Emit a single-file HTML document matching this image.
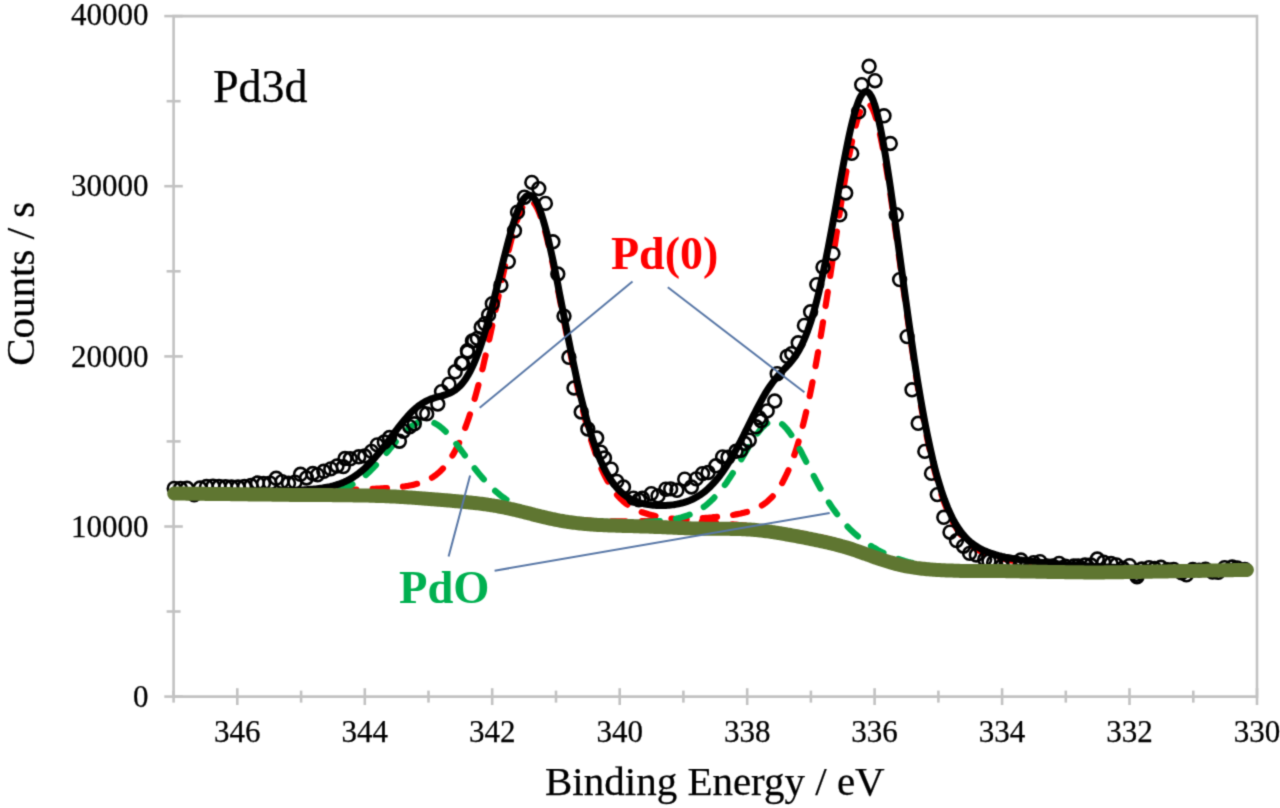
<!DOCTYPE html>
<html><head><meta charset="utf-8"><style>
html,body{margin:0;padding:0;background:#fff;}
svg{display:block;}
text{font-family:"Liberation Serif",serif;}
</style></head><body>
<svg width="1280" height="808" viewBox="0 0 1280 808">
<defs><filter id="bl" filterUnits="userSpaceOnUse" x="0" y="0" width="1280" height="808" color-interpolation-filters="sRGB"><feConvolveMatrix order="3" kernelMatrix="0.02768 0.11101 0.02768 0.11101 0.44521 0.11101 0.02768 0.11101 0.02768" divisor="1" preserveAlpha="false" edgeMode="duplicate"/></filter></defs>
<rect width="1280" height="808" fill="#fff"/>
<g filter="url(#bl)">
<rect width="1280" height="808" fill="#fff"/>
<g stroke="#c2c2c2" stroke-width="2.6" fill="none"><path d="M173.6 16.1 H1257.0 V696.6 H173.6 Z"/><path d="M164.3 696.6 H182.8"/><path d="M166.6 611.5 H180.6"/><path d="M164.3 526.5 H182.8"/><path d="M166.6 441.4 H180.6"/><path d="M164.3 356.4 H182.8"/><path d="M166.6 271.3 H180.6"/><path d="M164.3 186.2 H182.8"/><path d="M166.6 101.2 H180.6"/><path d="M164.3 16.1 H182.8"/><path d="M173.6 690.6 V702.6"/><path d="M237.3 688.2 V705"/><path d="M301.1 690.6 V702.6"/><path d="M364.8 688.2 V705"/><path d="M428.5 690.6 V702.6"/><path d="M492.2 688.2 V705"/><path d="M556.0 690.6 V702.6"/><path d="M619.7 688.2 V705"/><path d="M683.4 690.6 V702.6"/><path d="M747.2 688.2 V705"/><path d="M810.9 690.6 V702.6"/><path d="M874.6 688.2 V705"/><path d="M938.4 690.6 V702.6"/><path d="M1002.1 688.2 V705"/><path d="M1065.8 690.6 V702.6"/><path d="M1129.5 688.2 V705"/><path d="M1193.3 690.6 V702.6"/><path d="M1257.0 688.2 V705"/></g>
<g font-size="31" fill="#000" stroke="#000" stroke-width="0.25"><text x="148.6" y="706.8" text-anchor="end">0</text><text x="148.6" y="536.7" text-anchor="end">10000</text><text x="148.6" y="366.6" text-anchor="end">20000</text><text x="148.6" y="196.4" text-anchor="end">30000</text><text x="148.6" y="25.0" text-anchor="end">40000</text><text x="237.3" y="742" text-anchor="middle">346</text><text x="364.8" y="742" text-anchor="middle">344</text><text x="492.2" y="742" text-anchor="middle">342</text><text x="619.7" y="742" text-anchor="middle">340</text><text x="747.2" y="742" text-anchor="middle">338</text><text x="874.6" y="742" text-anchor="middle">336</text><text x="1002.1" y="742" text-anchor="middle">334</text><text x="1129.5" y="742" text-anchor="middle">332</text><text x="1257.0" y="742" text-anchor="middle">330</text></g>
<text x="34.5" y="283.8" font-size="41" stroke="#000" stroke-width="0.25" text-anchor="middle" transform="rotate(-90 34.5 283.8)">Counts / s</text>
<text x="545" y="794.8" font-size="41" stroke="#000" stroke-width="0.25">Binding Energy / eV</text>
<g fill="none" stroke-linejoin="round">
<path d="M174.2 493.1 L175.8 493.1 L177.4 493.1 L179.0 493.1 L180.6 493.1 L182.2 493.1 L183.7 493.1 L185.3 493.0 L186.9 493.0 L188.5 493.0 L190.1 493.0 L191.7 493.0 L193.3 493.0 L194.9 493.0 L196.5 493.0 L198.1 493.0 L199.7 492.9 L201.3 492.9 L202.8 492.9 L204.4 492.9 L206.0 492.9 L207.6 492.9 L209.2 492.9 L210.8 492.9 L212.4 492.8 L214.0 492.8 L215.6 492.8 L217.2 492.8 L218.8 492.8 L220.4 492.8 L221.9 492.8 L223.5 492.7 L225.1 492.7 L226.7 492.7 L228.3 492.7 L229.9 492.7 L231.5 492.7 L233.1 492.6 L234.7 492.6 L236.3 492.6 L237.9 492.6 L239.5 492.6 L241.0 492.6 L242.6 492.5 L244.2 492.5 L245.8 492.5 L247.4 492.5 L249.0 492.5 L250.6 492.4 L252.2 492.4 L253.8 492.4 L255.4 492.4 L257.0 492.4 L258.5 492.3 L260.1 492.3 L261.7 492.3 L263.3 492.3 L264.9 492.2 L266.5 492.2 L268.1 492.2 L269.7 492.2 L271.3 492.1 L272.9 492.1 L274.5 492.1 L276.1 492.1 L277.6 492.0 L279.2 492.0 L280.8 492.0 L282.4 491.9 L284.0 491.9 L285.6 491.9 L287.2 491.8 L288.8 491.8 L290.4 491.8 L292.0 491.7 L293.6 491.7 L295.2 491.7 L296.7 491.6 L298.3 491.6 L299.9 491.6 L301.5 491.5 L303.1 491.5 L304.7 491.5 L306.3 491.4 L307.9 491.4 L309.5 491.3 L311.1 491.3 L312.7 491.2 L314.3 491.2 L315.8 491.2 L317.4 491.1 L319.0 491.1 L320.6 491.0 L322.2 491.0 L323.8 490.9 L325.4 490.9 L327.0 490.8 L328.6 490.8 L330.2 490.7 L331.8 490.7 L333.3 490.6 L334.9 490.5 L336.5 490.5 L338.1 490.4 L339.7 490.4 L341.3 490.3 L342.9 490.2 L344.5 490.2 L346.1 490.1 L347.7 490.1 L349.3 490.0 L350.9 489.9 L352.4 489.9 L354.0 489.8 L355.6 489.7 L357.2 489.6 L358.8 489.6 L360.4 489.5 L362.0 489.4 L363.6 489.4 L365.2 489.3 L366.8 489.2 L368.4 489.1 L370.0 489.0 L371.5 489.0 L373.1 488.9 L374.7 488.8 L376.3 488.7 L377.9 488.6 L379.5 488.5 L381.1 488.4 L382.7 488.3 L384.3 488.2 L385.9 488.1 L387.5 488.0 L389.1 487.9 L390.6 487.8 L392.2 487.6 L393.8 487.5 L395.4 487.4 L397.0 487.2 L398.6 487.0 L400.2 486.9 L401.8 486.7 L403.4 486.5 L405.0 486.3 L406.6 486.0 L408.2 485.8 L409.7 485.5 L411.3 485.2 L412.9 484.9 L414.5 484.5 L416.1 484.1 L417.7 483.7 L419.3 483.3 L420.9 482.7 L422.5 482.2 L424.1 481.6 L425.7 480.9 L427.2 480.2 L428.8 479.4 L430.4 478.5 L432.0 477.6 L433.6 476.6 L435.2 475.4 L436.8 474.2 L438.4 472.9 L440.0 471.5 L441.6 469.9 L443.2 468.3 L444.8 466.5 L446.3 464.5 L447.9 462.4 L449.5 460.2 L451.1 457.7 L452.7 455.1 L454.3 452.4 L455.9 449.4 L457.5 446.3 L459.1 442.9 L460.7 439.4 L462.3 435.6 L463.9 431.6 L465.4 427.4 L467.0 423.0 L468.6 418.4 L470.2 413.5 L471.8 408.5 L473.4 403.1 L475.0 397.6 L476.6 391.9 L478.2 385.9 L479.8 379.8 L481.4 373.4 L483.0 366.9 L484.5 360.1 L486.1 353.3 L487.7 346.2 L489.3 339.1 L490.9 331.8 L492.5 324.4 L494.1 317.0 L495.7 309.5 L497.3 302.0 L498.9 294.5 L500.5 287.1 L502.0 279.7 L503.6 272.4 L505.2 265.2 L506.8 258.2 L508.4 251.5 L510.0 245.0 L511.6 238.7 L513.2 232.8 L514.8 227.3 L516.4 222.2 L518.0 217.6 L519.6 213.4 L521.1 209.8 L522.7 206.7 L524.3 204.2 L525.9 202.4 L527.5 201.2 L529.1 200.6 L530.7 200.7 L532.3 201.5 L533.9 203.0 L535.5 205.1 L537.1 207.9 L538.7 211.4 L540.2 215.4 L541.8 220.1 L543.4 225.2 L545.0 230.9 L546.6 237.0 L548.2 243.5 L549.8 250.4 L551.4 257.6 L553.0 265.1 L554.6 272.8 L556.2 280.6 L557.8 288.7 L559.3 296.8 L560.9 305.0 L562.5 313.2 L564.1 321.5 L565.7 329.7 L567.3 337.8 L568.9 345.9 L570.5 353.9 L572.1 361.7 L573.7 369.4 L575.3 376.9 L576.8 384.2 L578.4 391.3 L580.0 398.3 L581.6 405.0 L583.2 411.5 L584.8 417.7 L586.4 423.7 L588.0 429.5 L589.6 435.0 L591.2 440.3 L592.8 445.3 L594.4 450.1 L595.9 454.6 L597.5 458.9 L599.1 463.0 L600.7 466.8 L602.3 470.5 L603.9 473.9 L605.5 477.1 L607.1 480.1 L608.7 482.9 L610.3 485.5 L611.9 488.0 L613.5 490.3 L615.0 492.4 L616.6 494.4 L618.2 496.3 L619.8 498.0 L621.4 499.6 L623.0 501.1 L624.6 502.5 L626.2 503.7 L627.8 504.9 L629.4 506.0 L631.0 507.0 L632.6 507.9 L634.1 508.8 L635.7 509.6 L637.3 510.3 L638.9 511.0 L640.5 511.7 L642.1 512.3 L643.7 512.8 L645.3 513.3 L646.9 513.8 L648.5 514.3 L650.1 514.7 L651.6 515.1 L653.2 515.4 L654.8 515.8 L656.4 516.1 L658.0 516.4 L659.6 516.7 L661.2 517.0 L662.8 517.3 L664.4 517.5 L666.0 517.8 L667.6 518.0 L669.2 518.2 L670.7 518.5 L672.3 518.7 L673.9 518.9 L675.5 519.1 L677.1 519.3 L678.7 519.4 L680.3 519.6 L681.9 519.8 L683.5 520.0 L685.1 520.1 L686.7 520.3 L688.3 520.4 L689.8 520.6 L691.4 520.8 L693.0 520.9 L694.6 521.0 L696.2 521.2 L697.8 521.3 L699.4 521.5 L701.0 521.6 L702.6 521.8 L704.2 521.9 L705.8 522.0 L707.4 522.2 L708.9 522.3 L710.5 522.4 L712.1 522.6 L713.7 522.7 L715.3 522.9 L716.9 523.0 L718.5 523.1 L720.1 523.3 L721.7 523.4 L723.3 523.6 L724.9 523.7 L726.5 523.8 L728.0 524.0 L729.6 524.1 L731.2 524.3 L732.8 524.4 L734.4 524.6 L736.0 524.7 L737.6 524.9 L739.2 525.1 L740.8 525.2 L742.4 525.4 L744.0 525.6 L745.5 525.7 L747.1 525.9 L748.7 526.1 L750.3 526.3 L751.9 526.5 L753.5 526.7 L755.1 526.9 L756.7 527.1 L758.3 527.3 L759.9 527.5 L761.5 527.7 L763.1 527.9 L764.6 528.1 L766.2 528.3 L767.8 528.5 L769.4 528.7 L771.0 529.0 L772.6 529.2 L774.2 529.4 L775.8 529.7 L777.4 529.9 L779.0 530.1 L780.6 530.4 L782.2 530.6 L783.7 530.8 L785.3 531.1 L786.9 531.3 L788.5 531.6 L790.1 531.8 L791.7 532.1 L793.3 532.3 L794.9 532.6 L796.5 532.8 L798.1 533.1 L799.7 533.4 L801.3 533.6 L802.8 533.9 L804.4 534.2 L806.0 534.4 L807.6 534.7 L809.2 535.0 L810.8 535.3 L812.4 535.6 L814.0 535.9 L815.6 536.2 L817.2 536.6 L818.8 536.9 L820.3 537.2 L821.9 537.6 L823.5 538.0 L825.1 538.3 L826.7 538.7 L828.3 539.1 L829.9 539.5 L831.5 539.9 L833.1 540.3 L834.7 540.8 L836.3 541.2 L837.9 541.7 L839.4 542.1 L841.0 542.6 L842.6 543.1 L844.2 543.6 L845.8 544.1 L847.4 544.6 L849.0 545.2 L850.6 545.7 L852.2 546.3 L853.8 546.8 L855.4 547.4 L857.0 548.0 L858.5 548.6 L860.1 549.2 L861.7 549.8 L863.3 550.4 L864.9 551.0 L866.5 551.6 L868.1 552.2 L869.7 552.8 L871.3 553.4 L872.9 554.0 L874.5 554.6 L876.1 555.2 L877.6 555.8 L879.2 556.3 L880.8 556.9 L882.4 557.5 L884.0 558.0 L885.6 558.5 L887.2 559.1 L888.8 559.6 L890.4 560.1 L892.0 560.6 L893.6 561.0 L895.1 561.5 L896.7 561.9 L898.3 562.4 L899.9 562.8 L901.5 563.2 L903.1 563.6 L904.7 563.9 L906.3 564.3 L907.9 564.6 L909.5 565.0 L911.1 565.3 L912.7 565.6 L914.2 565.9 L915.8 566.1 L917.4 566.4 L919.0 566.6 L920.6 566.9 L922.2 567.1 L923.8 567.3 L925.4 567.5 L927.0 567.7 L928.6 567.9 L930.2 568.0 L931.8 568.2 L933.3 568.3 L934.9 568.5 L936.5 568.6 L938.1 568.8 L939.7 568.9 L941.3 569.0 L942.9 569.1 L944.5 569.2 L946.1 569.3 L947.7 569.4 L949.3 569.5 L950.9 569.5 L952.4 569.6 L954.0 569.7 L955.6 569.8 L957.2 569.8 L958.8 569.9 L960.4 570.0 L962.0 570.0 L963.6 570.1 L965.2 570.1 L966.8 570.2 L968.4 570.2 L969.9 570.3 L971.5 570.3 L973.1 570.3 L974.7 570.4 L976.3 570.4 L977.9 570.5 L979.5 570.5 L981.1 570.5 L982.7 570.6 L984.3 570.6 L985.9 570.6 L987.5 570.7 L989.0 570.7 L990.6 570.7 L992.2 570.8 L993.8 570.8 L995.4 570.8 L997.0 570.8 L998.6 570.9 L1000.2 570.9 L1001.8 570.9 L1003.4 570.9 L1005.0 571.0 L1006.6 571.0 L1008.1 571.0 L1009.7 571.0 L1011.3 571.1 L1012.9 571.1 L1014.5 571.1 L1016.1 571.1 L1017.7 571.1 L1019.3 571.2 L1020.9 571.2 L1022.5 571.2 L1024.1 571.2 L1025.7 571.2 L1027.2 571.3 L1028.8 571.3 L1030.4 571.3 L1032.0 571.3 L1033.6 571.3 L1035.2 571.3 L1036.8 571.4 L1038.4 571.4 L1040.0 571.4 L1041.6 571.4 L1043.2 571.4 L1044.8 571.4 L1046.3 571.5 L1047.9 571.5 L1049.5 571.5 L1051.1 571.5 L1052.7 571.5 L1054.3 571.5 L1055.9 571.6 L1057.5 571.6 L1059.1 571.6 L1060.7 571.6 L1062.3 571.6 L1063.8 571.6 L1065.4 571.6 L1067.0 571.6 L1068.6 571.7 L1070.2 571.7 L1071.8 571.7 L1073.4 571.7 L1075.0 571.7 L1076.6 571.7 L1078.2 571.7 L1079.8 571.8 L1081.4 571.8 L1082.9 571.8 L1084.5 571.8 L1086.1 571.8 L1087.7 571.8 L1089.3 571.8 L1090.9 571.8 L1092.5 571.8 L1094.1 571.9 L1095.7 571.9 L1097.3 571.9 L1098.9 571.9 L1100.5 571.9 L1102.0 571.9 L1103.6 571.9 L1105.2 571.9 L1106.8 571.9 L1108.4 571.9 L1110.0 572.0 L1111.6 572.0 L1113.2 572.0 L1114.8 572.0 L1116.4 572.0 L1118.0 572.0 L1119.6 572.0 L1121.1 572.0 L1122.7 572.0 L1124.3 572.0 L1125.9 572.0 L1127.5 572.1 L1129.1 572.1 L1130.7 572.1 L1132.3 572.1 L1133.9 572.1 L1135.5 572.1 L1137.1 572.1 L1138.6 572.1 L1140.2 572.1 L1141.8 572.1 L1143.4 572.1 L1145.0 572.1 L1146.6 572.2 L1148.2 572.2 L1149.8 572.2 L1151.4 572.2 L1153.0 572.2 L1154.6 572.2 L1156.2 572.2 L1157.7 572.2 L1159.3 572.2 L1160.9 572.2 L1162.5 572.2 L1164.1 572.2 L1165.7 572.2 L1167.3 572.2 L1168.9 572.3 L1170.5 572.3 L1172.1 572.3 L1173.7 572.3 L1175.3 572.3 L1176.8 572.3 L1178.4 572.3 L1180.0 572.3 L1181.6 572.3 L1183.2 572.3 L1184.8 572.3 L1186.4 572.3 L1188.0 572.3 L1189.6 572.3 L1191.2 572.3 L1192.8 572.3 L1194.4 572.4 L1195.9 572.4 L1197.5 572.4 L1199.1 572.4 L1200.7 572.4 L1202.3 572.4 L1203.9 572.4 L1205.5 572.4 L1207.1 572.4 L1208.7 572.4 L1210.3 572.4 L1211.9 572.4 L1213.4 572.4 L1215.0 572.4 L1216.6 572.4 L1218.2 572.4 L1219.8 572.4 L1221.4 572.4 L1223.0 572.5 L1224.6 572.5 L1226.2 572.5 L1227.8 572.5 L1229.4 572.5 L1231.0 572.5 L1232.5 572.5 L1234.1 572.5 L1235.7 572.5 L1237.3 572.5 L1238.9 572.5 L1240.5 572.5 L1242.1 572.5 L1243.7 572.5 L1245.3 572.5 L1246.9 572.5" stroke="#ff0000" stroke-width="6.2" stroke-dasharray="14.3 16.2" stroke-linecap="round" stroke-dashoffset="14.94"/>
<path d="M174.2 494.0 L175.8 494.0 L177.4 494.0 L179.0 494.0 L180.6 494.0 L182.2 494.0 L183.7 494.0 L185.3 494.0 L186.9 494.0 L188.5 494.0 L190.1 494.0 L191.7 494.0 L193.3 494.0 L194.9 494.0 L196.5 494.0 L198.1 494.0 L199.7 494.0 L201.3 494.0 L202.8 494.0 L204.4 494.0 L206.0 494.0 L207.6 494.0 L209.2 494.0 L210.8 494.0 L212.4 494.0 L214.0 494.0 L215.6 494.0 L217.2 494.0 L218.8 494.0 L220.4 494.0 L221.9 494.0 L223.5 494.0 L225.1 494.0 L226.7 494.0 L228.3 494.0 L229.9 494.0 L231.5 494.0 L233.1 494.0 L234.7 494.0 L236.3 494.0 L237.9 494.0 L239.5 494.0 L241.0 494.0 L242.6 494.0 L244.2 494.0 L245.8 494.0 L247.4 494.0 L249.0 494.0 L250.6 494.0 L252.2 494.0 L253.8 494.0 L255.4 494.0 L257.0 494.0 L258.5 494.0 L260.1 494.0 L261.7 494.0 L263.3 494.0 L264.9 494.0 L266.5 494.0 L268.1 494.0 L269.7 494.0 L271.3 494.0 L272.9 494.0 L274.5 494.0 L276.1 494.0 L277.6 494.0 L279.2 494.0 L280.8 494.0 L282.4 494.0 L284.0 494.0 L285.6 494.0 L287.2 494.0 L288.8 494.0 L290.4 494.0 L292.0 494.0 L293.6 494.0 L295.2 494.0 L296.7 494.0 L298.3 494.0 L299.9 494.0 L301.5 494.0 L303.1 494.0 L304.7 494.0 L306.3 494.0 L307.9 494.0 L309.5 494.0 L311.1 494.0 L312.7 494.0 L314.3 494.0 L315.8 494.0 L317.4 494.0 L319.0 494.0 L320.6 494.0 L322.2 494.0 L323.8 494.0 L325.4 494.1 L327.0 494.1 L328.6 494.1 L330.2 494.1 L331.8 494.1 L333.3 494.1 L334.9 494.1 L336.5 494.1 L338.1 494.1 L339.7 494.1 L341.3 494.1 L342.9 494.1 L344.5 494.1 L346.1 494.1 L347.7 494.2 L349.3 494.2 L350.9 494.2 L352.4 494.2 L354.0 494.2 L355.6 494.2 L357.2 494.3 L358.8 494.3 L360.4 494.3 L362.0 494.3 L363.6 494.4 L365.2 494.4 L366.8 494.4 L368.4 494.4 L370.0 494.5 L371.5 494.5 L373.1 494.5 L374.7 494.6 L376.3 494.6 L377.9 494.7 L379.5 494.7 L381.1 494.8 L382.7 494.8 L384.3 494.9 L385.9 494.9 L387.5 495.0 L389.1 495.1 L390.6 495.1 L392.2 495.2 L393.8 495.3 L395.4 495.3 L397.0 495.4 L398.6 495.5 L400.2 495.6 L401.8 495.7 L403.4 495.7 L405.0 495.8 L406.6 495.9 L408.2 496.0 L409.7 496.1 L411.3 496.2 L412.9 496.3 L414.5 496.4 L416.1 496.5 L417.7 496.6 L419.3 496.7 L420.9 496.8 L422.5 497.0 L424.1 497.1 L425.7 497.2 L427.2 497.3 L428.8 497.4 L430.4 497.5 L432.0 497.7 L433.6 497.8 L435.2 497.9 L436.8 498.0 L438.4 498.1 L440.0 498.3 L441.6 498.4 L443.2 498.5 L444.8 498.6 L446.3 498.7 L447.9 498.9 L449.5 499.0 L451.1 499.1 L452.7 499.3 L454.3 499.4 L455.9 499.5 L457.5 499.6 L459.1 499.8 L460.7 499.9 L462.3 500.1 L463.9 500.2 L465.4 500.3 L467.0 500.5 L468.6 500.6 L470.2 500.8 L471.8 500.9 L473.4 501.1 L475.0 501.3 L476.6 501.4 L478.2 501.6 L479.8 501.8 L481.4 502.0 L483.0 502.2 L484.5 502.4 L486.1 502.6 L487.7 502.8 L489.3 503.0 L490.9 503.2 L492.5 503.5 L494.1 503.7 L495.7 504.0 L497.3 504.2 L498.9 504.5 L500.5 504.8 L502.0 505.1 L503.6 505.4 L505.2 505.7 L506.8 506.0 L508.4 506.3 L510.0 506.6 L511.6 507.0 L513.2 507.3 L514.8 507.6 L516.4 508.0 L518.0 508.4 L519.6 508.7 L521.1 509.1 L522.7 509.5 L524.3 509.9 L525.9 510.2 L527.5 510.6 L529.1 511.0 L530.7 511.4 L532.3 511.8 L533.9 512.2 L535.5 512.6 L537.1 512.9 L538.7 513.3 L540.2 513.7 L541.8 514.1 L543.4 514.4 L545.0 514.8 L546.6 515.1 L548.2 515.5 L549.8 515.8 L551.4 516.1 L553.0 516.4 L554.6 516.7 L556.2 517.0 L557.8 517.3 L559.3 517.6 L560.9 517.8 L562.5 518.1 L564.1 518.3 L565.7 518.5 L567.3 518.8 L568.9 519.0 L570.5 519.2 L572.1 519.4 L573.7 519.5 L575.3 519.7 L576.8 519.9 L578.4 520.0 L580.0 520.1 L581.6 520.3 L583.2 520.4 L584.8 520.5 L586.4 520.6 L588.0 520.7 L589.6 520.8 L591.2 520.9 L592.8 521.0 L594.4 521.0 L595.9 521.1 L597.5 521.1 L599.1 521.2 L600.7 521.2 L602.3 521.3 L603.9 521.3 L605.5 521.3 L607.1 521.4 L608.7 521.4 L610.3 521.4 L611.9 521.4 L613.5 521.4 L615.0 521.4 L616.6 521.4 L618.2 521.4 L619.8 521.4 L621.4 521.4 L623.0 521.4 L624.6 521.4 L626.2 521.4 L627.8 521.3 L629.4 521.3 L631.0 521.3 L632.6 521.3 L634.1 521.2 L635.7 521.2 L637.3 521.2 L638.9 521.2 L640.5 521.1 L642.1 521.1 L643.7 521.0 L645.3 521.0 L646.9 521.0 L648.5 520.9 L650.1 520.9 L651.6 520.8 L653.2 520.8 L654.8 520.7 L656.4 520.7 L658.0 520.6 L659.6 520.5 L661.2 520.5 L662.8 520.4 L664.4 520.4 L666.0 520.3 L667.6 520.2 L669.2 520.2 L670.7 520.1 L672.3 520.0 L673.9 519.9 L675.5 519.9 L677.1 519.8 L678.7 519.7 L680.3 519.6 L681.9 519.5 L683.5 519.4 L685.1 519.4 L686.7 519.3 L688.3 519.2 L689.8 519.1 L691.4 519.0 L693.0 518.9 L694.6 518.8 L696.2 518.7 L697.8 518.5 L699.4 518.4 L701.0 518.3 L702.6 518.2 L704.2 518.1 L705.8 517.9 L707.4 517.8 L708.9 517.7 L710.5 517.5 L712.1 517.4 L713.7 517.2 L715.3 517.1 L716.9 516.9 L718.5 516.8 L720.1 516.6 L721.7 516.4 L723.3 516.2 L724.9 516.1 L726.5 515.9 L728.0 515.6 L729.6 515.4 L731.2 515.2 L732.8 515.0 L734.4 514.7 L736.0 514.4 L737.6 514.1 L739.2 513.8 L740.8 513.5 L742.4 513.1 L744.0 512.7 L745.5 512.3 L747.1 511.9 L748.7 511.4 L750.3 510.9 L751.9 510.3 L753.5 509.7 L755.1 509.0 L756.7 508.3 L758.3 507.5 L759.9 506.6 L761.5 505.7 L763.1 504.7 L764.6 503.6 L766.2 502.4 L767.8 501.1 L769.4 499.6 L771.0 498.1 L772.6 496.4 L774.2 494.6 L775.8 492.6 L777.4 490.5 L779.0 488.2 L780.6 485.7 L782.2 483.0 L783.7 480.1 L785.3 477.0 L786.9 473.7 L788.5 470.1 L790.1 466.3 L791.7 462.2 L793.3 457.9 L794.9 453.3 L796.5 448.4 L798.1 443.2 L799.7 437.7 L801.3 432.0 L802.8 425.9 L804.4 419.5 L806.0 412.7 L807.6 405.7 L809.2 398.4 L810.8 390.7 L812.4 382.7 L814.0 374.5 L815.6 365.9 L817.2 357.1 L818.8 347.9 L820.3 338.6 L821.9 328.9 L823.5 319.1 L825.1 309.1 L826.7 298.9 L828.3 288.5 L829.9 278.0 L831.5 267.4 L833.1 256.8 L834.7 246.1 L836.3 235.5 L837.9 224.9 L839.4 214.5 L841.0 204.1 L842.6 194.0 L844.2 184.2 L845.8 174.6 L847.4 165.4 L849.0 156.6 L850.6 148.3 L852.2 140.6 L853.8 133.4 L855.4 126.8 L857.0 121.0 L858.5 115.9 L860.1 111.6 L861.7 108.2 L863.3 105.6 L864.9 103.9 L866.5 103.1 L868.1 103.3 L869.7 104.4 L871.3 106.5 L872.9 109.6 L874.5 113.6 L876.1 118.4 L877.6 124.2 L879.2 130.7 L880.8 138.0 L882.4 146.0 L884.0 154.6 L885.6 163.9 L887.2 173.6 L888.8 183.8 L890.4 194.3 L892.0 205.2 L893.6 216.4 L895.1 227.8 L896.7 239.3 L898.3 251.0 L899.9 262.7 L901.5 274.4 L903.1 286.1 L904.7 297.7 L906.3 309.2 L907.9 320.6 L909.5 331.8 L911.1 342.8 L912.7 353.6 L914.2 364.1 L915.8 374.3 L917.4 384.3 L919.0 393.9 L920.6 403.3 L922.2 412.3 L923.8 420.9 L925.4 429.3 L927.0 437.3 L928.6 444.9 L930.2 452.2 L931.8 459.2 L933.3 465.8 L934.9 472.1 L936.5 478.0 L938.1 483.6 L939.7 488.9 L941.3 494.0 L942.9 498.7 L944.5 503.1 L946.1 507.2 L947.7 511.1 L949.3 514.8 L950.9 518.2 L952.4 521.3 L954.0 524.3 L955.6 527.0 L957.2 529.6 L958.8 532.0 L960.4 534.2 L962.0 536.2 L963.6 538.1 L965.2 539.8 L966.8 541.5 L968.4 543.0 L969.9 544.4 L971.5 545.7 L973.1 546.9 L974.7 548.0 L976.3 549.0 L977.9 549.9 L979.5 550.8 L981.1 551.6 L982.7 552.4 L984.3 553.1 L985.9 553.8 L987.5 554.4 L989.0 555.0 L990.6 555.5 L992.2 556.0 L993.8 556.5 L995.4 557.0 L997.0 557.4 L998.6 557.8 L1000.2 558.2 L1001.8 558.5 L1003.4 558.9 L1005.0 559.2 L1006.6 559.5 L1008.1 559.8 L1009.7 560.1 L1011.3 560.4 L1012.9 560.7 L1014.5 560.9 L1016.1 561.2 L1017.7 561.4 L1019.3 561.6 L1020.9 561.8 L1022.5 562.1 L1024.1 562.3 L1025.7 562.5 L1027.2 562.7 L1028.8 562.8 L1030.4 563.0 L1032.0 563.2 L1033.6 563.4 L1035.2 563.5 L1036.8 563.7 L1038.4 563.9 L1040.0 564.0 L1041.6 564.2 L1043.2 564.3 L1044.8 564.5 L1046.3 564.6 L1047.9 564.7 L1049.5 564.9 L1051.1 565.0 L1052.7 565.1 L1054.3 565.3 L1055.9 565.4 L1057.5 565.5 L1059.1 565.6 L1060.7 565.7 L1062.3 565.8 L1063.8 565.9 L1065.4 566.1 L1067.0 566.2 L1068.6 566.3 L1070.2 566.4 L1071.8 566.5 L1073.4 566.6 L1075.0 566.6 L1076.6 566.7 L1078.2 566.8 L1079.8 566.9 L1081.4 567.0 L1082.9 567.1 L1084.5 567.2 L1086.1 567.2 L1087.7 567.3 L1089.3 567.4 L1090.9 567.5 L1092.5 567.6 L1094.1 567.6 L1095.7 567.7 L1097.3 567.8 L1098.9 567.8 L1100.5 567.9 L1102.0 568.0 L1103.6 568.0 L1105.2 568.1 L1106.8 568.2 L1108.4 568.2 L1110.0 568.3 L1111.6 568.3 L1113.2 568.4 L1114.8 568.5 L1116.4 568.5 L1118.0 568.6 L1119.6 568.6 L1121.1 568.7 L1122.7 568.7 L1124.3 568.8 L1125.9 568.8 L1127.5 568.9 L1129.1 568.9 L1130.7 569.0 L1132.3 569.0 L1133.9 569.1 L1135.5 569.1 L1137.1 569.2 L1138.6 569.2 L1140.2 569.3 L1141.8 569.3 L1143.4 569.3 L1145.0 569.4 L1146.6 569.4 L1148.2 569.5 L1149.8 569.5 L1151.4 569.5 L1153.0 569.6 L1154.6 569.6 L1156.2 569.7 L1157.7 569.7 L1159.3 569.7 L1160.9 569.8 L1162.5 569.8 L1164.1 569.8 L1165.7 569.9 L1167.3 569.9 L1168.9 569.9 L1170.5 570.0 L1172.1 570.0 L1173.7 570.0 L1175.3 570.1 L1176.8 570.1 L1178.4 570.1 L1180.0 570.2 L1181.6 570.2 L1183.2 570.2 L1184.8 570.2 L1186.4 570.3 L1188.0 570.3 L1189.6 570.3 L1191.2 570.4 L1192.8 570.4 L1194.4 570.4 L1195.9 570.4 L1197.5 570.5 L1199.1 570.5 L1200.7 570.5 L1202.3 570.5 L1203.9 570.6 L1205.5 570.6 L1207.1 570.6 L1208.7 570.6 L1210.3 570.7 L1211.9 570.7 L1213.4 570.7 L1215.0 570.7 L1216.6 570.7 L1218.2 570.8 L1219.8 570.8 L1221.4 570.8 L1223.0 570.8 L1224.6 570.9 L1226.2 570.9 L1227.8 570.9 L1229.4 570.9 L1231.0 570.9 L1232.5 571.0 L1234.1 571.0 L1235.7 571.0 L1237.3 571.0 L1238.9 571.0 L1240.5 571.1 L1242.1 571.1 L1243.7 571.1 L1245.3 571.1 L1246.9 571.1" stroke="#ff0000" stroke-width="6.2" stroke-dasharray="14.3 16.2" stroke-linecap="round" stroke-dashoffset="18.13"/>
<path d="M174.2 494.5 L175.8 494.5 L177.4 494.5 L179.0 494.5 L180.6 494.5 L182.2 494.5 L183.7 494.5 L185.3 494.5 L186.9 494.5 L188.5 494.5 L190.1 494.5 L191.7 494.5 L193.3 494.5 L194.9 494.5 L196.5 494.5 L198.1 494.5 L199.7 494.5 L201.3 494.5 L202.8 494.5 L204.4 494.5 L206.0 494.5 L207.6 494.5 L209.2 494.5 L210.8 494.5 L212.4 494.5 L214.0 494.5 L215.6 494.5 L217.2 494.5 L218.8 494.6 L220.4 494.6 L221.9 494.6 L223.5 494.6 L225.1 494.6 L226.7 494.6 L228.3 494.6 L229.9 494.6 L231.5 494.6 L233.1 494.6 L234.7 494.6 L236.3 494.6 L237.9 494.6 L239.5 494.6 L241.0 494.6 L242.6 494.6 L244.2 494.6 L245.8 494.6 L247.4 494.6 L249.0 494.6 L250.6 494.6 L252.2 494.6 L253.8 494.6 L255.4 494.6 L257.0 494.6 L258.5 494.6 L260.1 494.6 L261.7 494.6 L263.3 494.6 L264.9 494.6 L266.5 494.6 L268.1 494.6 L269.7 494.6 L271.3 494.6 L272.9 494.6 L274.5 494.6 L276.1 494.6 L277.6 494.6 L279.2 494.6 L280.8 494.6 L282.4 494.6 L284.0 494.6 L285.6 494.6 L287.2 494.6 L288.8 494.6 L290.4 494.6 L292.0 494.6 L293.6 494.6 L295.2 494.6 L296.7 494.5 L298.3 494.5 L299.9 494.5 L301.5 494.4 L303.1 494.4 L304.7 494.4 L306.3 494.3 L307.9 494.3 L309.5 494.2 L311.1 494.1 L312.7 494.0 L314.3 493.9 L315.8 493.8 L317.4 493.7 L319.0 493.6 L320.6 493.4 L322.2 493.3 L323.8 493.1 L325.4 492.9 L327.0 492.6 L328.6 492.4 L330.2 492.1 L331.8 491.8 L333.3 491.5 L334.9 491.1 L336.5 490.7 L338.1 490.3 L339.7 489.8 L341.3 489.3 L342.9 488.7 L344.5 488.1 L346.1 487.5 L347.7 486.8 L349.3 486.1 L350.9 485.3 L352.4 484.4 L354.0 483.5 L355.6 482.5 L357.2 481.5 L358.8 480.4 L360.4 479.3 L362.0 478.1 L363.6 476.8 L365.2 475.5 L366.8 474.1 L368.4 472.7 L370.0 471.2 L371.5 469.6 L373.1 468.0 L374.7 466.4 L376.3 464.7 L377.9 462.9 L379.5 461.1 L381.1 459.3 L382.7 457.5 L384.3 455.6 L385.9 453.7 L387.5 451.8 L389.1 449.8 L390.6 447.9 L392.2 446.0 L393.8 444.1 L395.4 442.2 L397.0 440.4 L398.6 438.6 L400.2 436.8 L401.8 435.1 L403.4 433.4 L405.0 431.9 L406.6 430.4 L408.2 428.9 L409.7 427.6 L411.3 426.4 L412.9 425.3 L414.5 424.3 L416.1 423.4 L417.7 422.7 L419.3 422.1 L420.9 421.6 L422.5 421.2 L424.1 421.0 L425.7 421.0 L427.2 421.0 L428.8 421.2 L430.4 421.6 L432.0 422.1 L433.6 422.7 L435.2 423.5 L436.8 424.4 L438.4 425.4 L440.0 426.6 L441.6 427.9 L443.2 429.2 L444.8 430.7 L446.3 432.3 L447.9 434.0 L449.5 435.7 L451.1 437.6 L452.7 439.5 L454.3 441.4 L455.9 443.4 L457.5 445.5 L459.1 447.6 L460.7 449.7 L462.3 451.8 L463.9 454.0 L465.4 456.1 L467.0 458.3 L468.6 460.4 L470.2 462.5 L471.8 464.6 L473.4 466.7 L475.0 468.8 L476.6 470.8 L478.2 472.8 L479.8 474.7 L481.4 476.6 L483.0 478.4 L484.5 480.2 L486.1 482.0 L487.7 483.7 L489.3 485.3 L490.9 486.9 L492.5 488.4 L494.1 489.9 L495.7 491.3 L497.3 492.7 L498.9 494.0 L500.5 495.3 L502.0 496.5 L503.6 497.6 L505.2 498.8 L506.8 499.8 L508.4 500.9 L510.0 501.9 L511.6 502.8 L513.2 503.7 L514.8 504.6 L516.4 505.5 L518.0 506.3 L519.6 507.1 L521.1 507.8 L522.7 508.6 L524.3 509.3 L525.9 510.0 L527.5 510.6 L529.1 511.3 L530.7 511.9 L532.3 512.5 L533.9 513.1 L535.5 513.6 L537.1 514.2 L538.7 514.7 L540.2 515.2 L541.8 515.7 L543.4 516.1 L545.0 516.6 L546.6 517.0 L548.2 517.5 L549.8 517.9 L551.4 518.3 L553.0 518.7 L554.6 519.0 L556.2 519.4 L557.8 519.7 L559.3 520.0 L560.9 520.3 L562.5 520.6 L564.1 520.9 L565.7 521.2 L567.3 521.5 L568.9 521.7 L570.5 522.0 L572.1 522.2 L573.7 522.4 L575.3 522.6 L576.8 522.8 L578.4 523.0 L580.0 523.2 L581.6 523.3 L583.2 523.5 L584.8 523.6 L586.4 523.8 L588.0 523.9 L589.6 524.1 L591.2 524.2 L592.8 524.3 L594.4 524.4 L595.9 524.5 L597.5 524.6 L599.1 524.7 L600.7 524.8 L602.3 524.9 L603.9 524.9 L605.5 525.0 L607.1 525.1 L608.7 525.1 L610.3 525.2 L611.9 525.3 L613.5 525.3 L615.0 525.4 L616.6 525.4 L618.2 525.5 L619.8 525.5 L621.4 525.6 L623.0 525.6 L624.6 525.6 L626.2 525.7 L627.8 525.7 L629.4 525.8 L631.0 525.8 L632.6 525.8 L634.1 525.9 L635.7 525.9 L637.3 525.9 L638.9 526.0 L640.5 526.0 L642.1 526.0 L643.7 526.1 L645.3 526.1 L646.9 526.1 L648.5 526.1 L650.1 526.2 L651.6 526.2 L653.2 526.2 L654.8 526.3 L656.4 526.3 L658.0 526.3 L659.6 526.3 L661.2 526.4 L662.8 526.4 L664.4 526.4 L666.0 526.4 L667.6 526.5 L669.2 526.5 L670.7 526.5 L672.3 526.6 L673.9 526.6 L675.5 526.6 L677.1 526.6 L678.7 526.7 L680.3 526.7 L681.9 526.7 L683.5 526.8 L685.1 526.8 L686.7 526.8 L688.3 526.9 L689.8 526.9 L691.4 526.9 L693.0 527.0 L694.6 527.0 L696.2 527.0 L697.8 527.1 L699.4 527.1 L701.0 527.2 L702.6 527.2 L704.2 527.2 L705.8 527.3 L707.4 527.3 L708.9 527.4 L710.5 527.4 L712.1 527.5 L713.7 527.5 L715.3 527.6 L716.9 527.7 L718.5 527.7 L720.1 527.8 L721.7 527.9 L723.3 527.9 L724.9 528.0 L726.5 528.1 L728.0 528.2 L729.6 528.2 L731.2 528.3 L732.8 528.4 L734.4 528.5 L736.0 528.6 L737.6 528.7 L739.2 528.8 L740.8 528.9 L742.4 529.1 L744.0 529.2 L745.5 529.3 L747.1 529.4 L748.7 529.6 L750.3 529.7 L751.9 529.8 L753.5 530.0 L755.1 530.1 L756.7 530.3 L758.3 530.4 L759.9 530.6 L761.5 530.8 L763.1 530.9 L764.6 531.1 L766.2 531.3 L767.8 531.5 L769.4 531.6 L771.0 531.8 L772.6 532.0 L774.2 532.2 L775.8 532.4 L777.4 532.6 L779.0 532.8 L780.6 533.0 L782.2 533.2 L783.7 533.4 L785.3 533.6 L786.9 533.8 L788.5 534.1 L790.1 534.3 L791.7 534.5 L793.3 534.7 L794.9 534.9 L796.5 535.2 L798.1 535.4 L799.7 535.6 L801.3 535.9 L802.8 536.1 L804.4 536.4 L806.0 536.6 L807.6 536.9 L809.2 537.2 L810.8 537.4 L812.4 537.7 L814.0 538.0 L815.6 538.3 L817.2 538.6 L818.8 538.9 L820.3 539.2 L821.9 539.6 L823.5 539.9 L825.1 540.2 L826.7 540.6 L828.3 541.0 L829.9 541.4 L831.5 541.7 L833.1 542.1 L834.7 542.6 L836.3 543.0 L837.9 543.4 L839.4 543.9 L841.0 544.3 L842.6 544.8 L844.2 545.3 L845.8 545.8 L847.4 546.3 L849.0 546.8 L850.6 547.4 L852.2 547.9 L853.8 548.4 L855.4 549.0 L857.0 549.6 L858.5 550.1 L860.1 550.7 L861.7 551.3 L863.3 551.9 L864.9 552.5 L866.5 553.1 L868.1 553.7 L869.7 554.2 L871.3 554.8 L872.9 555.4 L874.5 556.0 L876.1 556.6 L877.6 557.2 L879.2 557.7 L880.8 558.3 L882.4 558.8 L884.0 559.4 L885.6 559.9 L887.2 560.4 L888.8 560.9 L890.4 561.4 L892.0 561.9 L893.6 562.3 L895.1 562.8 L896.7 563.2 L898.3 563.6 L899.9 564.0 L901.5 564.4 L903.1 564.8 L904.7 565.1 L906.3 565.5 L907.9 565.8 L909.5 566.1 L911.1 566.4 L912.7 566.7 L914.2 567.0 L915.8 567.3 L917.4 567.5 L919.0 567.7 L920.6 568.0 L922.2 568.2 L923.8 568.4 L925.4 568.6 L927.0 568.8 L928.6 568.9 L930.2 569.1 L931.8 569.2 L933.3 569.4 L934.9 569.5 L936.5 569.6 L938.1 569.8 L939.7 569.9 L941.3 570.0 L942.9 570.1 L944.5 570.2 L946.1 570.3 L947.7 570.3 L949.3 570.4 L950.9 570.5 L952.4 570.6 L954.0 570.6 L955.6 570.7 L957.2 570.8 L958.8 570.8 L960.4 570.9 L962.0 570.9 L963.6 571.0 L965.2 571.0 L966.8 571.1 L968.4 571.1 L969.9 571.1 L971.5 571.2 L973.1 571.2 L974.7 571.2 L976.3 571.3 L977.9 571.3 L979.5 571.3 L981.1 571.4 L982.7 571.4 L984.3 571.4 L985.9 571.4 L987.5 571.5 L989.0 571.5 L990.6 571.5 L992.2 571.5 L993.8 571.6 L995.4 571.6 L997.0 571.6 L998.6 571.6 L1000.2 571.7 L1001.8 571.7 L1003.4 571.7 L1005.0 571.7 L1006.6 571.7 L1008.1 571.7 L1009.7 571.8 L1011.3 571.8 L1012.9 571.8 L1014.5 571.8 L1016.1 571.8 L1017.7 571.9 L1019.3 571.9 L1020.9 571.9 L1022.5 571.9 L1024.1 571.9 L1025.7 571.9 L1027.2 571.9 L1028.8 572.0 L1030.4 572.0 L1032.0 572.0 L1033.6 572.0 L1035.2 572.0 L1036.8 572.0 L1038.4 572.0 L1040.0 572.0 L1041.6 572.1 L1043.2 572.1 L1044.8 572.1 L1046.3 572.1 L1047.9 572.1 L1049.5 572.1 L1051.1 572.1 L1052.7 572.1 L1054.3 572.2 L1055.9 572.2 L1057.5 572.2 L1059.1 572.2 L1060.7 572.2 L1062.3 572.2 L1063.8 572.2 L1065.4 572.2 L1067.0 572.2 L1068.6 572.2 L1070.2 572.3 L1071.8 572.3 L1073.4 572.3 L1075.0 572.3 L1076.6 572.3 L1078.2 572.3 L1079.8 572.3 L1081.4 572.3 L1082.9 572.3 L1084.5 572.3 L1086.1 572.3 L1087.7 572.4 L1089.3 572.4 L1090.9 572.4 L1092.5 572.4 L1094.1 572.4 L1095.7 572.4 L1097.3 572.4 L1098.9 572.4 L1100.5 572.4 L1102.0 572.4 L1103.6 572.4 L1105.2 572.4 L1106.8 572.4 L1108.4 572.4 L1110.0 572.5 L1111.6 572.5 L1113.2 572.5 L1114.8 572.5 L1116.4 572.5 L1118.0 572.5 L1119.6 572.5 L1121.1 572.5 L1122.7 572.5 L1124.3 572.5 L1125.9 572.5 L1127.5 572.5 L1129.1 572.5 L1130.7 572.5 L1132.3 572.5 L1133.9 572.6 L1135.5 572.6 L1137.1 572.6 L1138.6 572.6 L1140.2 572.6 L1141.8 572.6 L1143.4 572.6 L1145.0 572.6 L1146.6 572.6 L1148.2 572.6 L1149.8 572.6 L1151.4 572.6 L1153.0 572.6 L1154.6 572.6 L1156.2 572.6 L1157.7 572.6 L1159.3 572.6 L1160.9 572.6 L1162.5 572.6 L1164.1 572.7 L1165.7 572.7 L1167.3 572.7 L1168.9 572.7 L1170.5 572.7 L1172.1 572.7 L1173.7 572.7 L1175.3 572.7 L1176.8 572.7 L1178.4 572.7 L1180.0 572.7 L1181.6 572.7 L1183.2 572.7 L1184.8 572.7 L1186.4 572.7 L1188.0 572.7 L1189.6 572.7 L1191.2 572.7 L1192.8 572.7 L1194.4 572.7 L1195.9 572.7 L1197.5 572.7 L1199.1 572.7 L1200.7 572.8 L1202.3 572.8 L1203.9 572.8 L1205.5 572.8 L1207.1 572.8 L1208.7 572.8 L1210.3 572.8 L1211.9 572.8 L1213.4 572.8 L1215.0 572.8 L1216.6 572.8 L1218.2 572.8 L1219.8 572.8 L1221.4 572.8 L1223.0 572.8 L1224.6 572.8 L1226.2 572.8 L1227.8 572.8 L1229.4 572.8 L1231.0 572.8 L1232.5 572.8 L1234.1 572.8 L1235.7 572.8 L1237.3 572.8 L1238.9 572.8 L1240.5 572.8 L1242.1 572.8 L1243.7 572.8 L1245.3 572.8 L1246.9 572.9" stroke="#00b050" stroke-width="6.2" stroke-dasharray="14.3 16.2" stroke-linecap="round" stroke-dashoffset="17.45"/>
<path d="M174.2 494.3 L175.8 494.3 L177.4 494.3 L179.0 494.3 L180.6 494.3 L182.2 494.3 L183.7 494.3 L185.3 494.3 L186.9 494.3 L188.5 494.3 L190.1 494.3 L191.7 494.3 L193.3 494.3 L194.9 494.3 L196.5 494.3 L198.1 494.3 L199.7 494.3 L201.3 494.3 L202.8 494.3 L204.4 494.3 L206.0 494.3 L207.6 494.3 L209.2 494.3 L210.8 494.3 L212.4 494.3 L214.0 494.3 L215.6 494.3 L217.2 494.3 L218.8 494.4 L220.4 494.4 L221.9 494.4 L223.5 494.4 L225.1 494.4 L226.7 494.4 L228.3 494.4 L229.9 494.4 L231.5 494.4 L233.1 494.4 L234.7 494.4 L236.3 494.4 L237.9 494.4 L239.5 494.4 L241.0 494.4 L242.6 494.4 L244.2 494.4 L245.8 494.4 L247.4 494.4 L249.0 494.4 L250.6 494.4 L252.2 494.4 L253.8 494.4 L255.4 494.4 L257.0 494.4 L258.5 494.4 L260.1 494.4 L261.7 494.4 L263.3 494.4 L264.9 494.4 L266.5 494.4 L268.1 494.4 L269.7 494.4 L271.3 494.4 L272.9 494.4 L274.5 494.4 L276.1 494.4 L277.6 494.4 L279.2 494.4 L280.8 494.5 L282.4 494.5 L284.0 494.5 L285.6 494.5 L287.2 494.5 L288.8 494.5 L290.4 494.5 L292.0 494.5 L293.6 494.5 L295.2 494.5 L296.7 494.5 L298.3 494.5 L299.9 494.5 L301.5 494.5 L303.1 494.5 L304.7 494.5 L306.3 494.5 L307.9 494.5 L309.5 494.5 L311.1 494.5 L312.7 494.5 L314.3 494.5 L315.8 494.5 L317.4 494.5 L319.0 494.5 L320.6 494.6 L322.2 494.6 L323.8 494.6 L325.4 494.6 L327.0 494.6 L328.6 494.6 L330.2 494.6 L331.8 494.6 L333.3 494.6 L334.9 494.6 L336.5 494.6 L338.1 494.6 L339.7 494.7 L341.3 494.7 L342.9 494.7 L344.5 494.7 L346.1 494.7 L347.7 494.7 L349.3 494.7 L350.9 494.8 L352.4 494.8 L354.0 494.8 L355.6 494.8 L357.2 494.8 L358.8 494.9 L360.4 494.9 L362.0 494.9 L363.6 494.9 L365.2 495.0 L366.8 495.0 L368.4 495.0 L370.0 495.1 L371.5 495.1 L373.1 495.2 L374.7 495.2 L376.3 495.2 L377.9 495.3 L379.5 495.3 L381.1 495.4 L382.7 495.4 L384.3 495.5 L385.9 495.6 L387.5 495.6 L389.1 495.7 L390.6 495.8 L392.2 495.8 L393.8 495.9 L395.4 496.0 L397.0 496.1 L398.6 496.2 L400.2 496.2 L401.8 496.3 L403.4 496.4 L405.0 496.5 L406.6 496.6 L408.2 496.7 L409.7 496.8 L411.3 496.9 L412.9 497.0 L414.5 497.1 L416.1 497.2 L417.7 497.3 L419.3 497.5 L420.9 497.6 L422.5 497.7 L424.1 497.8 L425.7 497.9 L427.2 498.0 L428.8 498.2 L430.4 498.3 L432.0 498.4 L433.6 498.5 L435.2 498.6 L436.8 498.8 L438.4 498.9 L440.0 499.0 L441.6 499.2 L443.2 499.3 L444.8 499.4 L446.3 499.5 L447.9 499.7 L449.5 499.8 L451.1 499.9 L452.7 500.1 L454.3 500.2 L455.9 500.3 L457.5 500.5 L459.1 500.6 L460.7 500.7 L462.3 500.9 L463.9 501.0 L465.4 501.2 L467.0 501.3 L468.6 501.5 L470.2 501.6 L471.8 501.8 L473.4 502.0 L475.0 502.1 L476.6 502.3 L478.2 502.5 L479.8 502.7 L481.4 502.9 L483.0 503.1 L484.5 503.3 L486.1 503.5 L487.7 503.7 L489.3 503.9 L490.9 504.2 L492.5 504.4 L494.1 504.7 L495.7 504.9 L497.3 505.2 L498.9 505.4 L500.5 505.7 L502.0 506.0 L503.6 506.3 L505.2 506.6 L506.8 506.9 L508.4 507.3 L510.0 507.6 L511.6 507.9 L513.2 508.3 L514.8 508.7 L516.4 509.0 L518.0 509.4 L519.6 509.8 L521.1 510.1 L522.7 510.5 L524.3 510.9 L525.9 511.3 L527.5 511.7 L529.1 512.1 L530.7 512.5 L532.3 512.9 L533.9 513.2 L535.5 513.6 L537.1 514.0 L538.7 514.4 L540.2 514.8 L541.8 515.2 L543.4 515.5 L545.0 515.9 L546.6 516.2 L548.2 516.6 L549.8 516.9 L551.4 517.2 L553.0 517.6 L554.6 517.9 L556.2 518.2 L557.8 518.4 L559.3 518.7 L560.9 519.0 L562.5 519.2 L564.1 519.5 L565.7 519.7 L567.3 520.0 L568.9 520.2 L570.5 520.4 L572.1 520.6 L573.7 520.7 L575.3 520.9 L576.8 521.1 L578.4 521.2 L580.0 521.4 L581.6 521.5 L583.2 521.6 L584.8 521.7 L586.4 521.9 L588.0 522.0 L589.6 522.0 L591.2 522.1 L592.8 522.2 L594.4 522.3 L595.9 522.3 L597.5 522.4 L599.1 522.5 L600.7 522.5 L602.3 522.5 L603.9 522.6 L605.5 522.6 L607.1 522.6 L608.7 522.6 L610.3 522.7 L611.9 522.7 L613.5 522.7 L615.0 522.7 L616.6 522.7 L618.2 522.7 L619.8 522.7 L621.4 522.6 L623.0 522.6 L624.6 522.6 L626.2 522.6 L627.8 522.6 L629.4 522.5 L631.0 522.5 L632.6 522.5 L634.1 522.4 L635.7 522.4 L637.3 522.3 L638.9 522.3 L640.5 522.2 L642.1 522.1 L643.7 522.1 L645.3 522.0 L646.9 521.9 L648.5 521.8 L650.1 521.7 L651.6 521.6 L653.2 521.5 L654.8 521.4 L656.4 521.3 L658.0 521.2 L659.6 521.0 L661.2 520.9 L662.8 520.7 L664.4 520.5 L666.0 520.3 L667.6 520.1 L669.2 519.9 L670.7 519.6 L672.3 519.4 L673.9 519.1 L675.5 518.8 L677.1 518.4 L678.7 518.1 L680.3 517.7 L681.9 517.3 L683.5 516.8 L685.1 516.3 L686.7 515.8 L688.3 515.2 L689.8 514.6 L691.4 513.9 L693.0 513.2 L694.6 512.4 L696.2 511.6 L697.8 510.7 L699.4 509.8 L701.0 508.8 L702.6 507.7 L704.2 506.6 L705.8 505.4 L707.4 504.1 L708.9 502.7 L710.5 501.3 L712.1 499.8 L713.7 498.2 L715.3 496.5 L716.9 494.8 L718.5 493.0 L720.1 491.1 L721.7 489.1 L723.3 487.0 L724.9 484.9 L726.5 482.7 L728.0 480.4 L729.6 478.0 L731.2 475.6 L732.8 473.1 L734.4 470.6 L736.0 468.0 L737.6 465.4 L739.2 462.8 L740.8 460.1 L742.4 457.4 L744.0 454.7 L745.5 452.0 L747.1 449.3 L748.7 446.7 L750.3 444.1 L751.9 441.5 L753.5 439.1 L755.1 436.7 L756.7 434.4 L758.3 432.3 L759.9 430.2 L761.5 428.4 L763.1 426.7 L764.6 425.2 L766.2 423.9 L767.8 422.8 L769.4 421.9 L771.0 421.3 L772.6 421.0 L774.2 420.9 L775.8 421.0 L777.4 421.4 L779.0 422.1 L780.6 423.0 L782.2 424.2 L783.7 425.6 L785.3 427.2 L786.9 429.0 L788.5 431.1 L790.1 433.3 L791.7 435.6 L793.3 438.1 L794.9 440.7 L796.5 443.5 L798.1 446.3 L799.7 449.2 L801.3 452.1 L802.8 455.2 L804.4 458.2 L806.0 461.3 L807.6 464.3 L809.2 467.4 L810.8 470.5 L812.4 473.5 L814.0 476.5 L815.6 479.5 L817.2 482.5 L818.8 485.4 L820.3 488.2 L821.9 491.0 L823.5 493.7 L825.1 496.4 L826.7 499.0 L828.3 501.5 L829.9 504.0 L831.5 506.4 L833.1 508.7 L834.7 510.9 L836.3 513.1 L837.9 515.2 L839.4 517.3 L841.0 519.2 L842.6 521.1 L844.2 523.0 L845.8 524.7 L847.4 526.4 L849.0 528.1 L850.6 529.7 L852.2 531.2 L853.8 532.7 L855.4 534.2 L857.0 535.5 L858.5 536.9 L860.1 538.2 L861.7 539.4 L863.3 540.6 L864.9 541.8 L866.5 542.9 L868.1 544.0 L869.7 545.1 L871.3 546.1 L872.9 547.1 L874.5 548.0 L876.1 549.0 L877.6 549.9 L879.2 550.7 L880.8 551.6 L882.4 552.4 L884.0 553.1 L885.6 553.9 L887.2 554.6 L888.8 555.3 L890.4 556.0 L892.0 556.6 L893.6 557.3 L895.1 557.9 L896.7 558.4 L898.3 559.0 L899.9 559.5 L901.5 560.0 L903.1 560.5 L904.7 561.0 L906.3 561.4 L907.9 561.9 L909.5 562.3 L911.1 562.7 L912.7 563.0 L914.2 563.4 L915.8 563.7 L917.4 564.1 L919.0 564.4 L920.6 564.7 L922.2 565.0 L923.8 565.2 L925.4 565.5 L927.0 565.7 L928.6 565.9 L930.2 566.2 L931.8 566.4 L933.3 566.6 L934.9 566.8 L936.5 566.9 L938.1 567.1 L939.7 567.3 L941.3 567.4 L942.9 567.6 L944.5 567.7 L946.1 567.8 L947.7 568.0 L949.3 568.1 L950.9 568.2 L952.4 568.3 L954.0 568.4 L955.6 568.5 L957.2 568.6 L958.8 568.7 L960.4 568.8 L962.0 568.9 L963.6 569.0 L965.2 569.0 L966.8 569.1 L968.4 569.2 L969.9 569.2 L971.5 569.3 L973.1 569.4 L974.7 569.4 L976.3 569.5 L977.9 569.6 L979.5 569.6 L981.1 569.7 L982.7 569.7 L984.3 569.8 L985.9 569.8 L987.5 569.9 L989.0 569.9 L990.6 570.0 L992.2 570.0 L993.8 570.1 L995.4 570.1 L997.0 570.1 L998.6 570.2 L1000.2 570.2 L1001.8 570.3 L1003.4 570.3 L1005.0 570.3 L1006.6 570.4 L1008.1 570.4 L1009.7 570.4 L1011.3 570.5 L1012.9 570.5 L1014.5 570.5 L1016.1 570.6 L1017.7 570.6 L1019.3 570.6 L1020.9 570.7 L1022.5 570.7 L1024.1 570.7 L1025.7 570.8 L1027.2 570.8 L1028.8 570.8 L1030.4 570.8 L1032.0 570.9 L1033.6 570.9 L1035.2 570.9 L1036.8 571.0 L1038.4 571.0 L1040.0 571.0 L1041.6 571.0 L1043.2 571.1 L1044.8 571.1 L1046.3 571.1 L1047.9 571.1 L1049.5 571.1 L1051.1 571.2 L1052.7 571.2 L1054.3 571.2 L1055.9 571.2 L1057.5 571.3 L1059.1 571.3 L1060.7 571.3 L1062.3 571.3 L1063.8 571.3 L1065.4 571.4 L1067.0 571.4 L1068.6 571.4 L1070.2 571.4 L1071.8 571.4 L1073.4 571.4 L1075.0 571.5 L1076.6 571.5 L1078.2 571.5 L1079.8 571.5 L1081.4 571.5 L1082.9 571.6 L1084.5 571.6 L1086.1 571.6 L1087.7 571.6 L1089.3 571.6 L1090.9 571.6 L1092.5 571.6 L1094.1 571.7 L1095.7 571.7 L1097.3 571.7 L1098.9 571.7 L1100.5 571.7 L1102.0 571.7 L1103.6 571.7 L1105.2 571.8 L1106.8 571.8 L1108.4 571.8 L1110.0 571.8 L1111.6 571.8 L1113.2 571.8 L1114.8 571.8 L1116.4 571.9 L1118.0 571.9 L1119.6 571.9 L1121.1 571.9 L1122.7 571.9 L1124.3 571.9 L1125.9 571.9 L1127.5 571.9 L1129.1 571.9 L1130.7 572.0 L1132.3 572.0 L1133.9 572.0 L1135.5 572.0 L1137.1 572.0 L1138.6 572.0 L1140.2 572.0 L1141.8 572.0 L1143.4 572.0 L1145.0 572.1 L1146.6 572.1 L1148.2 572.1 L1149.8 572.1 L1151.4 572.1 L1153.0 572.1 L1154.6 572.1 L1156.2 572.1 L1157.7 572.1 L1159.3 572.1 L1160.9 572.1 L1162.5 572.2 L1164.1 572.2 L1165.7 572.2 L1167.3 572.2 L1168.9 572.2 L1170.5 572.2 L1172.1 572.2 L1173.7 572.2 L1175.3 572.2 L1176.8 572.2 L1178.4 572.2 L1180.0 572.2 L1181.6 572.3 L1183.2 572.3 L1184.8 572.3 L1186.4 572.3 L1188.0 572.3 L1189.6 572.3 L1191.2 572.3 L1192.8 572.3 L1194.4 572.3 L1195.9 572.3 L1197.5 572.3 L1199.1 572.3 L1200.7 572.3 L1202.3 572.4 L1203.9 572.4 L1205.5 572.4 L1207.1 572.4 L1208.7 572.4 L1210.3 572.4 L1211.9 572.4 L1213.4 572.4 L1215.0 572.4 L1216.6 572.4 L1218.2 572.4 L1219.8 572.4 L1221.4 572.4 L1223.0 572.4 L1224.6 572.4 L1226.2 572.4 L1227.8 572.5 L1229.4 572.5 L1231.0 572.5 L1232.5 572.5 L1234.1 572.5 L1235.7 572.5 L1237.3 572.5 L1238.9 572.5 L1240.5 572.5 L1242.1 572.5 L1243.7 572.5 L1245.3 572.5 L1246.9 572.5" stroke="#00b050" stroke-width="6.2" stroke-dasharray="14.3 16.2" stroke-linecap="round" stroke-dashoffset="14.28"/>
<path d="M174.2 492.3 L175.8 492.3 L177.4 492.3 L179.0 492.3 L180.6 492.3 L182.2 492.3 L183.7 492.3 L185.3 492.2 L186.9 492.2 L188.5 492.2 L190.1 492.2 L191.7 492.2 L193.3 492.2 L194.9 492.1 L196.5 492.1 L198.1 492.1 L199.7 492.1 L201.3 492.1 L202.8 492.1 L204.4 492.0 L206.0 492.0 L207.6 492.0 L209.2 492.0 L210.8 492.0 L212.4 492.0 L214.0 491.9 L215.6 491.9 L217.2 491.9 L218.8 491.9 L220.4 491.9 L221.9 491.8 L223.5 491.8 L225.1 491.8 L226.7 491.8 L228.3 491.8 L229.9 491.7 L231.5 491.7 L233.1 491.7 L234.7 491.7 L236.3 491.6 L237.9 491.6 L239.5 491.6 L241.0 491.6 L242.6 491.5 L244.2 491.5 L245.8 491.5 L247.4 491.5 L249.0 491.4 L250.6 491.4 L252.2 491.4 L253.8 491.4 L255.4 491.3 L257.0 491.3 L258.5 491.3 L260.1 491.2 L261.7 491.2 L263.3 491.2 L264.9 491.2 L266.5 491.1 L268.1 491.1 L269.7 491.1 L271.3 491.0 L272.9 491.0 L274.5 490.9 L276.1 490.9 L277.6 490.9 L279.2 490.8 L280.8 490.8 L282.4 490.7 L284.0 490.7 L285.6 490.6 L287.2 490.6 L288.8 490.5 L290.4 490.5 L292.0 490.4 L293.6 490.4 L295.2 490.3 L296.7 490.2 L298.3 490.2 L299.9 490.1 L301.5 490.0 L303.1 489.9 L304.7 489.8 L306.3 489.7 L307.9 489.6 L309.5 489.5 L311.1 489.3 L312.7 489.2 L314.3 489.0 L315.8 488.9 L317.4 488.7 L319.0 488.5 L320.6 488.3 L322.2 488.1 L323.8 487.8 L325.4 487.5 L327.0 487.2 L328.6 486.9 L330.2 486.6 L331.8 486.2 L333.3 485.8 L334.9 485.3 L336.5 484.9 L338.1 484.3 L339.7 483.8 L341.3 483.2 L342.9 482.6 L344.5 481.9 L346.1 481.1 L347.7 480.4 L349.3 479.5 L350.9 478.6 L352.4 477.7 L354.0 476.7 L355.6 475.6 L357.2 474.5 L358.8 473.3 L360.4 472.0 L362.0 470.7 L363.6 469.3 L365.2 467.9 L366.8 466.4 L368.4 464.8 L370.0 463.2 L371.5 461.5 L373.1 459.8 L374.7 458.0 L376.3 456.1 L377.9 454.2 L379.5 452.3 L381.1 450.3 L382.7 448.3 L384.3 446.2 L385.9 444.1 L387.5 442.0 L389.1 439.9 L390.6 437.8 L392.2 435.6 L393.8 433.5 L395.4 431.4 L397.0 429.3 L398.6 427.2 L400.2 425.2 L401.8 423.2 L403.4 421.2 L405.0 419.3 L406.6 417.5 L408.2 415.7 L409.7 414.0 L411.3 412.3 L412.9 410.8 L414.5 409.3 L416.1 407.9 L417.7 406.6 L419.3 405.4 L420.9 404.3 L422.5 403.2 L424.1 402.3 L425.7 401.4 L427.2 400.6 L428.8 399.9 L430.4 399.2 L432.0 398.7 L433.6 398.1 L435.2 397.6 L436.8 397.2 L438.4 396.7 L440.0 396.3 L441.6 395.9 L443.2 395.4 L444.8 395.0 L446.3 394.4 L447.9 393.9 L449.5 393.2 L451.1 392.5 L452.7 391.6 L454.3 390.6 L455.9 389.5 L457.5 388.3 L459.1 386.8 L460.7 385.2 L462.3 383.4 L463.9 381.4 L465.4 379.2 L467.0 376.8 L468.6 374.1 L470.2 371.2 L471.8 368.0 L473.4 364.6 L475.0 360.9 L476.6 357.0 L478.2 352.8 L479.8 348.4 L481.4 343.7 L483.0 338.7 L484.5 333.6 L486.1 328.2 L487.7 322.6 L489.3 316.8 L490.9 310.9 L492.5 304.8 L494.1 298.5 L495.7 292.1 L497.3 285.7 L498.9 279.2 L500.5 272.7 L502.0 266.2 L503.6 259.7 L505.2 253.4 L506.8 247.1 L508.4 241.0 L510.0 235.1 L511.6 229.4 L513.2 224.1 L514.8 219.0 L516.4 214.4 L518.0 210.1 L519.6 206.3 L521.1 203.0 L522.7 200.3 L524.3 198.1 L525.9 196.5 L527.5 195.5 L529.1 195.1 L530.7 195.4 L532.3 196.3 L533.9 197.9 L535.5 200.2 L537.1 203.1 L538.7 206.6 L540.2 210.8 L541.8 215.5 L543.4 220.7 L545.0 226.4 L546.6 232.5 L548.2 239.1 L549.8 246.0 L551.4 253.2 L553.0 260.6 L554.6 268.3 L556.2 276.2 L557.8 284.2 L559.3 292.3 L560.9 300.5 L562.5 308.7 L564.1 316.9 L565.7 325.0 L567.3 333.1 L568.9 341.2 L570.5 349.1 L572.1 356.9 L573.7 364.5 L575.3 372.0 L576.8 379.2 L578.4 386.3 L580.0 393.2 L581.6 399.8 L583.2 406.2 L584.8 412.4 L586.4 418.4 L588.0 424.1 L589.6 429.5 L591.2 434.7 L592.8 439.7 L594.4 444.4 L595.9 448.8 L597.5 453.1 L599.1 457.1 L600.7 460.8 L602.3 464.4 L603.9 467.7 L605.5 470.8 L607.1 473.8 L608.7 476.5 L610.3 479.0 L611.9 481.4 L613.5 483.6 L615.0 485.6 L616.6 487.5 L618.2 489.3 L619.8 490.9 L621.4 492.4 L623.0 493.7 L624.6 495.0 L626.2 496.2 L627.8 497.2 L629.4 498.2 L631.0 499.1 L632.6 499.9 L634.1 500.6 L635.7 501.2 L637.3 501.8 L638.9 502.4 L640.5 502.9 L642.1 503.3 L643.7 503.7 L645.3 504.0 L646.9 504.3 L648.5 504.6 L650.1 504.8 L651.6 505.0 L653.2 505.2 L654.8 505.3 L656.4 505.4 L658.0 505.5 L659.6 505.5 L661.2 505.5 L662.8 505.5 L664.4 505.5 L666.0 505.4 L667.6 505.3 L669.2 505.2 L670.7 505.1 L672.3 504.9 L673.9 504.7 L675.5 504.4 L677.1 504.1 L678.7 503.8 L680.3 503.4 L681.9 503.0 L683.5 502.6 L685.1 502.1 L686.7 501.6 L688.3 501.0 L689.8 500.4 L691.4 499.7 L693.0 499.0 L694.6 498.2 L696.2 497.3 L697.8 496.4 L699.4 495.4 L701.0 494.3 L702.6 493.2 L704.2 492.0 L705.8 490.7 L707.4 489.3 L708.9 487.9 L710.5 486.4 L712.1 484.7 L713.7 483.0 L715.3 481.2 L716.9 479.3 L718.5 477.4 L720.1 475.3 L721.7 473.1 L723.3 470.9 L724.9 468.6 L726.5 466.1 L728.0 463.6 L729.6 461.0 L731.2 458.4 L732.8 455.6 L734.4 452.8 L736.0 449.9 L737.6 446.9 L739.2 443.9 L740.8 440.9 L742.4 437.7 L744.0 434.6 L745.5 431.4 L747.1 428.2 L748.7 425.0 L750.3 421.8 L751.9 418.6 L753.5 415.4 L755.1 412.3 L756.7 409.2 L758.3 406.1 L759.9 403.1 L761.5 400.2 L763.1 397.3 L764.6 394.6 L766.2 391.9 L767.8 389.4 L769.4 387.0 L771.0 384.7 L772.6 382.5 L774.2 380.4 L775.8 378.4 L777.4 376.5 L779.0 374.7 L780.6 373.0 L782.2 371.3 L783.7 369.6 L785.3 368.0 L786.9 366.3 L788.5 364.6 L790.1 362.8 L791.7 360.9 L793.3 358.8 L794.9 356.7 L796.5 354.3 L798.1 351.7 L799.7 348.9 L801.3 345.9 L802.8 342.6 L804.4 339.0 L806.0 335.1 L807.6 330.9 L809.2 326.4 L810.8 321.6 L812.4 316.4 L814.0 310.9 L815.6 305.0 L817.2 298.9 L818.8 292.4 L820.3 285.5 L821.9 278.4 L823.5 271.0 L825.1 263.3 L826.7 255.3 L828.3 247.1 L829.9 238.7 L831.5 230.2 L833.1 221.5 L834.7 212.7 L836.3 203.8 L837.9 194.9 L839.4 186.0 L841.0 177.3 L842.6 168.6 L844.2 160.1 L845.8 151.8 L847.4 143.9 L849.0 136.2 L850.6 129.0 L852.2 122.3 L853.8 116.0 L855.4 110.4 L857.0 105.4 L858.5 101.1 L860.1 97.5 L861.7 94.7 L863.3 92.8 L864.9 91.7 L866.5 91.5 L868.1 92.2 L869.7 93.8 L871.3 96.3 L872.9 99.8 L874.5 104.1 L876.1 109.4 L877.6 115.5 L879.2 122.3 L880.8 129.9 L882.4 138.2 L884.0 147.1 L885.6 156.5 L887.2 166.5 L888.8 176.9 L890.4 187.6 L892.0 198.7 L893.6 210.1 L895.1 221.6 L896.7 233.3 L898.3 245.1 L899.9 256.9 L901.5 268.8 L903.1 280.6 L904.7 292.4 L906.3 304.0 L907.9 315.5 L909.5 326.8 L911.1 337.8 L912.7 348.7 L914.2 359.3 L915.8 369.6 L917.4 379.7 L919.0 389.4 L920.6 398.8 L922.2 407.9 L923.8 416.7 L925.4 425.1 L927.0 433.1 L928.6 440.8 L930.2 448.2 L931.8 455.2 L933.3 461.9 L934.9 468.3 L936.5 474.3 L938.1 479.9 L939.7 485.3 L941.3 490.4 L942.9 495.1 L944.5 499.6 L946.1 503.8 L947.7 507.8 L949.3 511.4 L950.9 514.9 L952.4 518.1 L954.0 521.1 L955.6 523.9 L957.2 526.5 L958.8 528.9 L960.4 531.1 L962.0 533.2 L963.6 535.2 L965.2 537.0 L966.8 538.6 L968.4 540.2 L969.9 541.6 L971.5 542.9 L973.1 544.1 L974.7 545.3 L976.3 546.3 L977.9 547.3 L979.5 548.2 L981.1 549.1 L982.7 549.9 L984.3 550.6 L985.9 551.3 L987.5 552.0 L989.0 552.6 L990.6 553.2 L992.2 553.7 L993.8 554.2 L995.4 554.7 L997.0 555.1 L998.6 555.6 L1000.2 556.0 L1001.8 556.4 L1003.4 556.7 L1005.0 557.1 L1006.6 557.4 L1008.1 557.7 L1009.7 558.0 L1011.3 558.3 L1012.9 558.6 L1014.5 558.9 L1016.1 559.2 L1017.7 559.4 L1019.3 559.7 L1020.9 559.9 L1022.5 560.1 L1024.1 560.4 L1025.7 560.6 L1027.2 560.8 L1028.8 561.0 L1030.4 561.2 L1032.0 561.4 L1033.6 561.6 L1035.2 561.8 L1036.8 562.0 L1038.4 562.1 L1040.0 562.3 L1041.6 562.5 L1043.2 562.6 L1044.8 562.8 L1046.3 563.0 L1047.9 563.1 L1049.5 563.3 L1051.1 563.4 L1052.7 563.6 L1054.3 563.7 L1055.9 563.8 L1057.5 564.0 L1059.1 564.1 L1060.7 564.2 L1062.3 564.3 L1063.8 564.5 L1065.4 564.6 L1067.0 564.7 L1068.6 564.8 L1070.2 564.9 L1071.8 565.0 L1073.4 565.1 L1075.0 565.2 L1076.6 565.3 L1078.2 565.5 L1079.8 565.5 L1081.4 565.6 L1082.9 565.7 L1084.5 565.8 L1086.1 565.9 L1087.7 566.0 L1089.3 566.1 L1090.9 566.2 L1092.5 566.3 L1094.1 566.4 L1095.7 566.4 L1097.3 566.5 L1098.9 566.6 L1100.5 566.7 L1102.0 566.8 L1103.6 566.8 L1105.2 566.9 L1106.8 567.0 L1108.4 567.0 L1110.0 567.1 L1111.6 567.2 L1113.2 567.3 L1114.8 567.3 L1116.4 567.4 L1118.0 567.4 L1119.6 567.5 L1121.1 567.6 L1122.7 567.6 L1124.3 567.7 L1125.9 567.8 L1127.5 567.8 L1129.1 567.9 L1130.7 567.9 L1132.3 568.0 L1133.9 568.0 L1135.5 568.1 L1137.1 568.1 L1138.6 568.2 L1140.2 568.2 L1141.8 568.3 L1143.4 568.3 L1145.0 568.4 L1146.6 568.4 L1148.2 568.5 L1149.8 568.5 L1151.4 568.6 L1153.0 568.6 L1154.6 568.7 L1156.2 568.7 L1157.7 568.8 L1159.3 568.8 L1160.9 568.8 L1162.5 568.9 L1164.1 568.9 L1165.7 569.0 L1167.3 569.0 L1168.9 569.0 L1170.5 569.1 L1172.1 569.1 L1173.7 569.2 L1175.3 569.2 L1176.8 569.2 L1178.4 569.3 L1180.0 569.3 L1181.6 569.3 L1183.2 569.4 L1184.8 569.4 L1186.4 569.4 L1188.0 569.5 L1189.6 569.5 L1191.2 569.5 L1192.8 569.6 L1194.4 569.6 L1195.9 569.6 L1197.5 569.7 L1199.1 569.7 L1200.7 569.7 L1202.3 569.8 L1203.9 569.8 L1205.5 569.8 L1207.1 569.8 L1208.7 569.9 L1210.3 569.9 L1211.9 569.9 L1213.4 569.9 L1215.0 570.0 L1216.6 570.0 L1218.2 570.0 L1219.8 570.1 L1221.4 570.1 L1223.0 570.1 L1224.6 570.1 L1226.2 570.2 L1227.8 570.2 L1229.4 570.2 L1231.0 570.2 L1232.5 570.3 L1234.1 570.3 L1235.7 570.3 L1237.3 570.3 L1238.9 570.3 L1240.5 570.4 L1242.1 570.4 L1243.7 570.4 L1245.3 570.4 L1246.9 570.5" stroke="#000" stroke-width="7" stroke-linecap="round"/>
<g stroke="#000" stroke-width="2.6"><circle cx="174.2" cy="488.4" r="6.4"/><circle cx="180.5" cy="488.5" r="6.4"/><circle cx="187.0" cy="488.3" r="6.4"/><circle cx="194.2" cy="494.8" r="6.4"/><circle cx="200.0" cy="488.0" r="6.4"/><circle cx="206.5" cy="486.5" r="6.4"/><circle cx="213.0" cy="486.2" r="6.4"/><circle cx="219.0" cy="486.5" r="6.4"/><circle cx="225.5" cy="486.8" r="6.4"/><circle cx="231.5" cy="487.0" r="6.4"/><circle cx="238.0" cy="487.0" r="6.4"/><circle cx="244.5" cy="486.5" r="6.4"/><circle cx="251.0" cy="485.5" r="6.4"/><circle cx="257.5" cy="483.0" r="6.4"/><circle cx="263.5" cy="483.5" r="6.4"/><circle cx="270.0" cy="483.2" r="6.4"/><circle cx="276.2" cy="478.3" r="6.4"/><circle cx="282.0" cy="481.6" r="6.4"/><circle cx="288.5" cy="483.3" r="6.4"/><circle cx="295.0" cy="482.2" r="6.4"/><circle cx="300.5" cy="474.3" r="6.4"/><circle cx="306.5" cy="478.0" r="6.4"/><circle cx="312.8" cy="473.5" r="6.4"/><circle cx="317.5" cy="474.9" r="6.4"/><circle cx="323.8" cy="471.3" r="6.4"/><circle cx="330.8" cy="468.9" r="6.4"/><circle cx="337.0" cy="466.0" r="6.4"/><circle cx="343.3" cy="466.6" r="6.4"/><circle cx="345.0" cy="458.5" r="6.4"/><circle cx="350.3" cy="458.8" r="6.4"/><circle cx="358.8" cy="456.8" r="6.4"/><circle cx="364.8" cy="456.0" r="6.4"/><circle cx="371.5" cy="451.4" r="6.4"/><circle cx="377.2" cy="444.9" r="6.4"/><circle cx="384.3" cy="442.0" r="6.4"/><circle cx="389.5" cy="437.5" r="6.4"/><circle cx="399.4" cy="441.2" r="6.4"/><circle cx="403.4" cy="431.2" r="6.4"/><circle cx="409.7" cy="426.7" r="6.4"/><circle cx="414.3" cy="423.8" r="6.4"/><circle cx="422.5" cy="413.0" r="6.4"/><circle cx="426.7" cy="413.9" r="6.4"/><circle cx="437.8" cy="404.0" r="6.4"/><circle cx="441.5" cy="391.6" r="6.4"/><circle cx="449.0" cy="384.2" r="6.4"/><circle cx="455.2" cy="371.8" r="6.4"/><circle cx="461.4" cy="363.2" r="6.4"/><circle cx="462.5" cy="363.2" r="6.4"/><circle cx="467.4" cy="350.8" r="6.4"/><circle cx="467.6" cy="352.0" r="6.4"/><circle cx="472.4" cy="340.9" r="6.4"/><circle cx="473.7" cy="340.9" r="6.4"/><circle cx="477.3" cy="338.4" r="6.4"/><circle cx="481.2" cy="327.2" r="6.4"/><circle cx="484.8" cy="323.6" r="6.4"/><circle cx="488.6" cy="314.9" r="6.4"/><circle cx="492.3" cy="303.7" r="6.4"/><circle cx="500.9" cy="285.2" r="6.4"/><circle cx="508.3" cy="261.6" r="6.4"/><circle cx="514.5" cy="230.7" r="6.4"/><circle cx="517.5" cy="212.1" r="6.4"/><circle cx="524.4" cy="197.2" r="6.4"/><circle cx="531.8" cy="182.4" r="6.4"/><circle cx="538.8" cy="188.6" r="6.4"/><circle cx="545.4" cy="203.4" r="6.4"/><circle cx="552.9" cy="241.8" r="6.4"/><circle cx="557.8" cy="274.0" r="6.4"/><circle cx="564.0" cy="316.1" r="6.4"/><circle cx="568.9" cy="357.3" r="6.4"/><circle cx="574.0" cy="388.0" r="6.4"/><circle cx="581.2" cy="412.0" r="6.4"/><circle cx="587.8" cy="429.0" r="6.4"/><circle cx="596.7" cy="438.0" r="6.4"/><circle cx="600.7" cy="452.2" r="6.4"/><circle cx="604.5" cy="458.0" r="6.4"/><circle cx="611.2" cy="469.1" r="6.4"/><circle cx="616.8" cy="481.4" r="6.4"/><circle cx="623.5" cy="487.0" r="6.4"/><circle cx="633.5" cy="498.1" r="6.4"/><circle cx="638.9" cy="499.9" r="6.4"/><circle cx="642.4" cy="498.1" r="6.4"/><circle cx="651.3" cy="493.6" r="6.4"/><circle cx="658.0" cy="495.9" r="6.4"/><circle cx="665.8" cy="489.2" r="6.4"/><circle cx="670.7" cy="488.9" r="6.4"/><circle cx="676.9" cy="490.3" r="6.4"/><circle cx="684.7" cy="479.2" r="6.4"/><circle cx="691.4" cy="487.0" r="6.4"/><circle cx="696.2" cy="478.9" r="6.4"/><circle cx="702.5" cy="473.6" r="6.4"/><circle cx="708.1" cy="472.5" r="6.4"/><circle cx="715.9" cy="465.8" r="6.4"/><circle cx="722.6" cy="456.9" r="6.4"/><circle cx="728.0" cy="457.3" r="6.4"/><circle cx="736.0" cy="451.3" r="6.4"/><circle cx="740.8" cy="450.4" r="6.4"/><circle cx="744.9" cy="443.5" r="6.4"/><circle cx="749.3" cy="440.2" r="6.4"/><circle cx="756.0" cy="426.8" r="6.4"/><circle cx="759.3" cy="417.9" r="6.4"/><circle cx="761.1" cy="420.8" r="6.4"/><circle cx="767.2" cy="410.9" r="6.4"/><circle cx="774.7" cy="401.0" r="6.4"/><circle cx="777.2" cy="373.7" r="6.4"/><circle cx="787.1" cy="356.4" r="6.4"/><circle cx="791.7" cy="353.7" r="6.4"/><circle cx="798.2" cy="342.8" r="6.4"/><circle cx="804.4" cy="325.4" r="6.4"/><circle cx="810.6" cy="311.8" r="6.4"/><circle cx="816.8" cy="284.6" r="6.4"/><circle cx="823.0" cy="267.2" r="6.4"/><circle cx="832.9" cy="253.6" r="6.4"/><circle cx="839.8" cy="214.8" r="6.4"/><circle cx="845.7" cy="193.0" r="6.4"/><circle cx="851.7" cy="153.4" r="6.4"/><circle cx="858.6" cy="111.8" r="6.4"/><circle cx="861.7" cy="84.7" r="6.4"/><circle cx="869.1" cy="66.3" r="6.4"/><circle cx="875.0" cy="80.7" r="6.4"/><circle cx="884.0" cy="115.8" r="6.4"/><circle cx="890.3" cy="143.5" r="6.4"/><circle cx="896.2" cy="214.8" r="6.4"/><circle cx="899.6" cy="279.6" r="6.4"/><circle cx="907.1" cy="336.6" r="6.4"/><circle cx="912.0" cy="389.8" r="6.4"/><circle cx="918.2" cy="423.3" r="6.4"/><circle cx="924.8" cy="451.4" r="6.4"/><circle cx="931.5" cy="473.4" r="6.4"/><circle cx="937.3" cy="494.6" r="6.4"/><circle cx="943.8" cy="517.3" r="6.4"/><circle cx="950.0" cy="532.2" r="6.4"/><circle cx="956.5" cy="540.6" r="6.4"/><circle cx="963.5" cy="546.2" r="6.4"/><circle cx="969.6" cy="553.4" r="6.4"/><circle cx="976.3" cy="555.0" r="6.4"/><circle cx="984.7" cy="559.5" r="6.4"/><circle cx="989.0" cy="561.2" r="6.4"/><circle cx="993.6" cy="562.5" r="6.4"/><circle cx="1001.8" cy="566.2" r="6.4"/><circle cx="1008.1" cy="562.1" r="6.4"/><circle cx="1014.5" cy="562.7" r="6.4"/><circle cx="1020.9" cy="560.0" r="6.4"/><circle cx="1027.0" cy="565.0" r="6.4"/><circle cx="1033.6" cy="562.6" r="6.4"/><circle cx="1040.0" cy="561.6" r="6.4"/><circle cx="1047.0" cy="566.0" r="6.4"/><circle cx="1052.7" cy="565.9" r="6.4"/><circle cx="1059.1" cy="563.4" r="6.4"/><circle cx="1065.4" cy="566.1" r="6.4"/><circle cx="1073.8" cy="566.0" r="6.4"/><circle cx="1078.2" cy="565.9" r="6.4"/><circle cx="1085.0" cy="565.0" r="6.4"/><circle cx="1090.9" cy="565.0" r="6.4"/><circle cx="1097.3" cy="559.0" r="6.4"/><circle cx="1103.6" cy="562.3" r="6.4"/><circle cx="1111.0" cy="563.5" r="6.4"/><circle cx="1116.4" cy="564.9" r="6.4"/><circle cx="1122.7" cy="568.3" r="6.4"/><circle cx="1129.5" cy="565.6" r="6.4"/><circle cx="1136.6" cy="574.3" r="6.4"/><circle cx="1137.0" cy="576.7" r="6.4"/><circle cx="1141.8" cy="569.0" r="6.4"/><circle cx="1149.0" cy="567.7" r="6.4"/><circle cx="1154.6" cy="568.5" r="6.4"/><circle cx="1160.9" cy="567.3" r="6.4"/><circle cx="1167.5" cy="569.8" r="6.4"/><circle cx="1173.7" cy="569.4" r="6.4"/><circle cx="1181.6" cy="572.9" r="6.4"/><circle cx="1186.4" cy="574.8" r="6.4"/><circle cx="1192.8" cy="569.5" r="6.4"/><circle cx="1199.1" cy="570.1" r="6.4"/><circle cx="1205.5" cy="569.1" r="6.4"/><circle cx="1212.5" cy="572.1" r="6.4"/><circle cx="1218.2" cy="572.4" r="6.4"/><circle cx="1224.6" cy="567.6" r="6.4"/><circle cx="1232.2" cy="567.0" r="6.4"/><circle cx="1237.3" cy="567.9" r="6.4"/><circle cx="1244.9" cy="569.4" r="6.4"/></g>
<path d="M174.2 493.6 L175.8 493.6 L177.4 493.6 L179.0 493.6 L180.6 493.6 L182.2 493.6 L183.7 493.6 L185.3 493.6 L186.9 493.7 L188.5 493.7 L190.1 493.7 L191.7 493.7 L193.3 493.7 L194.9 493.7 L196.5 493.8 L198.1 493.8 L199.7 493.8 L201.3 493.8 L202.8 493.8 L204.4 493.8 L206.0 493.9 L207.6 493.9 L209.2 493.9 L210.8 493.9 L212.4 493.9 L214.0 494.0 L215.6 494.0 L217.2 494.0 L218.8 494.0 L220.4 494.0 L221.9 494.0 L223.5 494.1 L225.1 494.1 L226.7 494.1 L228.3 494.1 L229.9 494.1 L231.5 494.2 L233.1 494.2 L234.7 494.2 L236.3 494.2 L237.9 494.2 L239.5 494.2 L241.0 494.3 L242.6 494.3 L244.2 494.3 L245.8 494.3 L247.4 494.3 L249.0 494.4 L250.6 494.4 L252.2 494.4 L253.8 494.4 L255.4 494.4 L257.0 494.5 L258.5 494.5 L260.1 494.5 L261.7 494.5 L263.3 494.5 L264.9 494.6 L266.5 494.6 L268.1 494.6 L269.7 494.6 L271.3 494.6 L272.9 494.7 L274.5 494.7 L276.1 494.7 L277.6 494.7 L279.2 494.7 L280.8 494.8 L282.4 494.8 L284.0 494.8 L285.6 494.8 L287.2 494.8 L288.8 494.8 L290.4 494.9 L292.0 494.9 L293.6 494.9 L295.2 494.9 L296.7 494.9 L298.3 494.9 L299.9 494.9 L301.5 495.0 L303.1 495.0 L304.7 495.0 L306.3 495.0 L307.9 495.0 L309.5 495.0 L311.1 495.0 L312.7 495.0 L314.3 495.0 L315.8 495.1 L317.4 495.1 L319.0 495.1 L320.6 495.1 L322.2 495.1 L323.8 495.1 L325.4 495.1 L327.0 495.1 L328.6 495.1 L330.2 495.1 L331.8 495.1 L333.3 495.2 L334.9 495.2 L336.5 495.2 L338.1 495.2 L339.7 495.2 L341.3 495.2 L342.9 495.2 L344.5 495.3 L346.1 495.3 L347.7 495.3 L349.3 495.3 L350.9 495.3 L352.4 495.3 L354.0 495.4 L355.6 495.4 L357.2 495.4 L358.8 495.4 L360.4 495.5 L362.0 495.5 L363.6 495.5 L365.2 495.6 L366.8 495.6 L368.4 495.6 L370.0 495.7 L371.5 495.7 L373.1 495.8 L374.7 495.8 L376.3 495.9 L377.9 495.9 L379.5 496.0 L381.1 496.0 L382.7 496.1 L384.3 496.1 L385.9 496.2 L387.5 496.3 L389.1 496.3 L390.6 496.4 L392.2 496.5 L393.8 496.6 L395.4 496.6 L397.0 496.7 L398.6 496.8 L400.2 496.9 L401.8 497.0 L403.4 497.1 L405.0 497.2 L406.6 497.3 L408.2 497.4 L409.7 497.5 L411.3 497.6 L412.9 497.7 L414.5 497.8 L416.1 497.9 L417.7 498.1 L419.3 498.2 L420.9 498.3 L422.5 498.4 L424.1 498.5 L425.7 498.7 L427.2 498.8 L428.8 498.9 L430.4 499.0 L432.0 499.2 L433.6 499.3 L435.2 499.4 L436.8 499.5 L438.4 499.7 L440.0 499.8 L441.6 499.9 L443.2 500.1 L444.8 500.2 L446.3 500.3 L447.9 500.5 L449.5 500.6 L451.1 500.7 L452.7 500.9 L454.3 501.0 L455.9 501.2 L457.5 501.3 L459.1 501.4 L460.7 501.6 L462.3 501.7 L463.9 501.9 L465.4 502.0 L467.0 502.2 L468.6 502.4 L470.2 502.5 L471.8 502.7 L473.4 502.9 L475.0 503.0 L476.6 503.2 L478.2 503.4 L479.8 503.6 L481.4 503.8 L483.0 504.0 L484.5 504.2 L486.1 504.4 L487.7 504.7 L489.3 504.9 L490.9 505.2 L492.5 505.4 L494.1 505.7 L495.7 505.9 L497.3 506.2 L498.9 506.5 L500.5 506.8 L502.0 507.1 L503.6 507.4 L505.2 507.7 L506.8 508.1 L508.4 508.4 L510.0 508.8 L511.6 509.1 L513.2 509.5 L514.8 509.8 L516.4 510.2 L518.0 510.6 L519.6 511.0 L521.1 511.4 L522.7 511.8 L524.3 512.2 L525.9 512.6 L527.5 513.0 L529.1 513.4 L530.7 513.8 L532.3 514.2 L533.9 514.7 L535.5 515.1 L537.1 515.5 L538.7 515.9 L540.2 516.3 L541.8 516.7 L543.4 517.0 L545.0 517.4 L546.6 517.8 L548.2 518.2 L549.8 518.5 L551.4 518.9 L553.0 519.2 L554.6 519.5 L556.2 519.9 L557.8 520.2 L559.3 520.5 L560.9 520.8 L562.5 521.0 L564.1 521.3 L565.7 521.6 L567.3 521.8 L568.9 522.1 L570.5 522.3 L572.1 522.5 L573.7 522.7 L575.3 522.9 L576.8 523.1 L578.4 523.3 L580.0 523.5 L581.6 523.6 L583.2 523.8 L584.8 523.9 L586.4 524.1 L588.0 524.2 L589.6 524.3 L591.2 524.5 L592.8 524.6 L594.4 524.7 L595.9 524.8 L597.5 524.9 L599.1 525.0 L600.7 525.0 L602.3 525.1 L603.9 525.2 L605.5 525.3 L607.1 525.3 L608.7 525.4 L610.3 525.5 L611.9 525.5 L613.5 525.6 L615.0 525.6 L616.6 525.7 L618.2 525.7 L619.8 525.8 L621.4 525.8 L623.0 525.9 L624.6 525.9 L626.2 526.0 L627.8 526.0 L629.4 526.1 L631.0 526.1 L632.6 526.1 L634.1 526.2 L635.7 526.2 L637.3 526.3 L638.9 526.3 L640.5 526.4 L642.1 526.4 L643.7 526.5 L645.3 526.5 L646.9 526.6 L648.5 526.6 L650.1 526.7 L651.6 526.7 L653.2 526.8 L654.8 526.9 L656.4 526.9 L658.0 527.0 L659.6 527.0 L661.2 527.1 L662.8 527.2 L664.4 527.2 L666.0 527.3 L667.6 527.4 L669.2 527.5 L670.7 527.5 L672.3 527.6 L673.9 527.7 L675.5 527.7 L677.1 527.8 L678.7 527.9 L680.3 528.0 L681.9 528.0 L683.5 528.1 L685.1 528.2 L686.7 528.2 L688.3 528.3 L689.8 528.3 L691.4 528.4 L693.0 528.4 L694.6 528.5 L696.2 528.5 L697.8 528.6 L699.4 528.6 L701.0 528.6 L702.6 528.6 L704.2 528.7 L705.8 528.7 L707.4 528.7 L708.9 528.7 L710.5 528.7 L712.1 528.7 L713.7 528.7 L715.3 528.7 L716.9 528.8 L718.5 528.8 L720.1 528.8 L721.7 528.8 L723.3 528.8 L724.9 528.8 L726.5 528.8 L728.0 528.8 L729.6 528.8 L731.2 528.9 L732.8 528.9 L734.4 528.9 L736.0 529.0 L737.6 529.0 L739.2 529.1 L740.8 529.1 L742.4 529.2 L744.0 529.2 L745.5 529.3 L747.1 529.4 L748.7 529.5 L750.3 529.6 L751.9 529.7 L753.5 529.8 L755.1 530.0 L756.7 530.1 L758.3 530.3 L759.9 530.4 L761.5 530.6 L763.1 530.8 L764.6 531.0 L766.2 531.2 L767.8 531.4 L769.4 531.6 L771.0 531.8 L772.6 532.1 L774.2 532.3 L775.8 532.6 L777.4 532.8 L779.0 533.1 L780.6 533.3 L782.2 533.6 L783.7 533.9 L785.3 534.2 L786.9 534.5 L788.5 534.7 L790.1 535.0 L791.7 535.3 L793.3 535.6 L794.9 535.9 L796.5 536.2 L798.1 536.5 L799.7 536.8 L801.3 537.1 L802.8 537.4 L804.4 537.7 L806.0 538.0 L807.6 538.4 L809.2 538.7 L810.8 539.0 L812.4 539.3 L814.0 539.6 L815.6 540.0 L817.2 540.3 L818.8 540.6 L820.3 541.0 L821.9 541.3 L823.5 541.7 L825.1 542.0 L826.7 542.4 L828.3 542.7 L829.9 543.1 L831.5 543.5 L833.1 543.9 L834.7 544.3 L836.3 544.7 L837.9 545.1 L839.4 545.5 L841.0 546.0 L842.6 546.4 L844.2 546.9 L845.8 547.3 L847.4 547.8 L849.0 548.3 L850.6 548.8 L852.2 549.3 L853.8 549.9 L855.4 550.4 L857.0 550.9 L858.5 551.5 L860.1 552.0 L861.7 552.6 L863.3 553.2 L864.9 553.7 L866.5 554.3 L868.1 554.9 L869.7 555.4 L871.3 556.0 L872.9 556.6 L874.5 557.2 L876.1 557.7 L877.6 558.3 L879.2 558.8 L880.8 559.4 L882.4 559.9 L884.0 560.4 L885.6 560.9 L887.2 561.4 L888.8 561.9 L890.4 562.4 L892.0 562.8 L893.6 563.3 L895.1 563.7 L896.7 564.1 L898.3 564.5 L899.9 564.9 L901.5 565.3 L903.1 565.6 L904.7 566.0 L906.3 566.3 L907.9 566.6 L909.5 566.9 L911.1 567.1 L912.7 567.4 L914.2 567.6 L915.8 567.9 L917.4 568.1 L919.0 568.3 L920.6 568.5 L922.2 568.7 L923.8 568.8 L925.4 569.0 L927.0 569.2 L928.6 569.3 L930.2 569.4 L931.8 569.6 L933.3 569.7 L934.9 569.8 L936.5 569.9 L938.1 570.0 L939.7 570.1 L941.3 570.2 L942.9 570.2 L944.5 570.3 L946.1 570.4 L947.7 570.5 L949.3 570.5 L950.9 570.6 L952.4 570.6 L954.0 570.7 L955.6 570.7 L957.2 570.8 L958.8 570.8 L960.4 570.9 L962.0 570.9 L963.6 570.9 L965.2 571.0 L966.8 571.0 L968.4 571.0 L969.9 571.0 L971.5 571.1 L973.1 571.1 L974.7 571.1 L976.3 571.1 L977.9 571.1 L979.5 571.1 L981.1 571.1 L982.7 571.1 L984.3 571.1 L985.9 571.1 L987.5 571.1 L989.0 571.1 L990.6 571.1 L992.2 571.1 L993.8 571.1 L995.4 571.1 L997.0 571.1 L998.6 571.1 L1000.2 571.1 L1001.8 571.1 L1003.4 571.1 L1005.0 571.1 L1006.6 571.2 L1008.1 571.2 L1009.7 571.2 L1011.3 571.2 L1012.9 571.2 L1014.5 571.3 L1016.1 571.3 L1017.7 571.3 L1019.3 571.3 L1020.9 571.4 L1022.5 571.4 L1024.1 571.4 L1025.7 571.4 L1027.2 571.5 L1028.8 571.5 L1030.4 571.5 L1032.0 571.6 L1033.6 571.6 L1035.2 571.6 L1036.8 571.7 L1038.4 571.7 L1040.0 571.7 L1041.6 571.7 L1043.2 571.8 L1044.8 571.8 L1046.3 571.8 L1047.9 571.9 L1049.5 571.9 L1051.1 571.9 L1052.7 571.9 L1054.3 572.0 L1055.9 572.0 L1057.5 572.0 L1059.1 572.1 L1060.7 572.1 L1062.3 572.1 L1063.8 572.1 L1065.4 572.2 L1067.0 572.2 L1068.6 572.2 L1070.2 572.2 L1071.8 572.2 L1073.4 572.3 L1075.0 572.3 L1076.6 572.3 L1078.2 572.3 L1079.8 572.3 L1081.4 572.3 L1082.9 572.3 L1084.5 572.4 L1086.1 572.4 L1087.7 572.4 L1089.3 572.4 L1090.9 572.4 L1092.5 572.4 L1094.1 572.4 L1095.7 572.4 L1097.3 572.4 L1098.9 572.4 L1100.5 572.4 L1102.0 572.4 L1103.6 572.4 L1105.2 572.3 L1106.8 572.3 L1108.4 572.3 L1110.0 572.3 L1111.6 572.3 L1113.2 572.3 L1114.8 572.3 L1116.4 572.2 L1118.0 572.2 L1119.6 572.2 L1121.1 572.2 L1122.7 572.2 L1124.3 572.1 L1125.9 572.1 L1127.5 572.1 L1129.1 572.1 L1130.7 572.0 L1132.3 572.0 L1133.9 572.0 L1135.5 572.0 L1137.1 571.9 L1138.6 571.9 L1140.2 571.9 L1141.8 571.8 L1143.4 571.8 L1145.0 571.8 L1146.6 571.8 L1148.2 571.7 L1149.8 571.7 L1151.4 571.7 L1153.0 571.6 L1154.6 571.6 L1156.2 571.6 L1157.7 571.6 L1159.3 571.5 L1160.9 571.5 L1162.5 571.5 L1164.1 571.4 L1165.7 571.4 L1167.3 571.4 L1168.9 571.3 L1170.5 571.3 L1172.1 571.3 L1173.7 571.3 L1175.3 571.2 L1176.8 571.2 L1178.4 571.2 L1180.0 571.1 L1181.6 571.1 L1183.2 571.1 L1184.8 571.1 L1186.4 571.0 L1188.0 571.0 L1189.6 571.0 L1191.2 570.9 L1192.8 570.9 L1194.4 570.9 L1195.9 570.8 L1197.5 570.8 L1199.1 570.8 L1200.7 570.8 L1202.3 570.7 L1203.9 570.7 L1205.5 570.7 L1207.1 570.6 L1208.7 570.6 L1210.3 570.6 L1211.9 570.5 L1213.4 570.5 L1215.0 570.5 L1216.6 570.5 L1218.2 570.4 L1219.8 570.4 L1221.4 570.4 L1223.0 570.3 L1224.6 570.3 L1226.2 570.3 L1227.8 570.2 L1229.4 570.2 L1231.0 570.2 L1232.5 570.2 L1234.1 570.1 L1235.7 570.1 L1237.3 570.1 L1238.9 570.1 L1240.5 570.0 L1242.1 570.0 L1243.7 570.0 L1245.3 570.0 L1246.9 569.9" stroke="#5f7631" stroke-width="14" stroke-linecap="round"/>
</g>
<g stroke="#5877a6" stroke-width="2.0" fill="none">
<path d="M632.5 281.6 L479.7 407.8"/>
<path d="M667.8 287.3 L804.4 392.3"/>
<path d="M470.1 475.6 L448.6 556.6"/>
<path d="M494.6 570.7 L829.7 512.9"/>
</g>
<text x="213" y="102.2" font-size="46" stroke="#000" stroke-width="0.25">Pd3d</text>
<text x="611" y="269.2" font-size="46" font-weight="bold" fill="#ff0000">Pd(0)</text>
<text x="399" y="602.7" font-size="46.5" font-weight="bold" fill="#00b050">PdO</text>
</g>
</svg>
</body></html>
